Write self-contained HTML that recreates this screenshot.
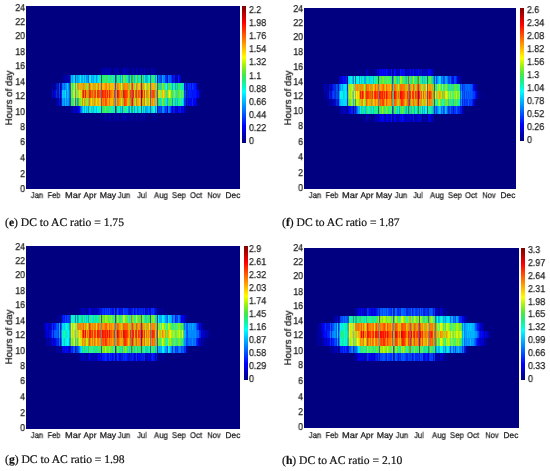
<!DOCTYPE html><html><head><meta charset="utf-8"><style>
*{margin:0;padding:0;box-sizing:border-box}
html,body{width:550px;height:471px;background:#fff;overflow:hidden}
body{position:relative;font-family:"Liberation Sans",sans-serif;color:#1a1a1a;text-rendering:geometricPrecision}
.pl{position:absolute;background:#000080;overflow:hidden}
.rw{position:absolute;left:0;background-repeat:no-repeat}
.hm{position:absolute;left:0;top:0;width:100%;height:100%;filter:blur(0.35px)}
.cb{position:absolute;background:linear-gradient(to top,#000080 0.00%,#00009f 3.12%,#0000bf 6.25%,#0000df 9.38%,#0000ff 12.50%,#0020ff 15.62%,#0040ff 18.75%,#0060ff 21.88%,#0080ff 25.00%,#009fff 28.12%,#00bfff 31.25%,#00dfff 34.38%,#00ffff 37.50%,#06f9c9 40.62%,#15f298 43.75%,#2cec6d 46.88%,#49e649 50.00%,#6dec2c 53.12%,#98f215 56.25%,#c9f906 59.38%,#ffff00 62.50%,#ffdf00 65.62%,#ffbf00 68.75%,#ff9f00 71.88%,#ff8000 75.00%,#ff6000 78.12%,#ff4000 81.25%,#ff2000 84.38%,#ff0000 87.50%,#df0000 90.62%,#bf0000 93.75%,#9f0000 96.88%,#800000 100.00%)}
.t{position:absolute;white-space:nowrap;line-height:1;font-size:10.0px;will-change:transform;-webkit-text-stroke:0.25px #1a1a1a}
.yt{text-align:right;width:20px;transform:scaleX(0.88);transform-origin:100% 50%}
.ct{transform:scaleX(0.88);transform-origin:0 50%}
.mt{font-size:8.3px;width:30px;margin-left:-15px;text-align:center}
.yl{font-size:9.7px;width:60px;margin-left:-30px;text-align:center;transform:rotate(-90deg);-webkit-text-stroke:0.2px #111;will-change:auto;color:#111}
.cap{position:absolute;white-space:nowrap;font-family:"Liberation Serif",serif;font-size:11.6px;line-height:1;color:#111;will-change:transform;-webkit-text-stroke:0.2px #111}
</style></head><body>

<div class="pl" style="left:26px;top:6px;width:214.3px;height:182.8px"><div class="hm">
<div class="rw" style="top:107.23px;height:7.62px;width:215px;background-image:linear-gradient(90deg,#000080 0 74px,#000086 0 75px,#000084 0 76px,#00008d 0 78px,#000093 0 79px,#0000aa 0 80px,#0000a1 0 81px,#000080 0 82px,#00008a 0 83px,#0000b1 0 84px,#000093 0 85px,#000098 0 86px,#000080 0 87px,#00008f 0 88px,#0000b3 0 89px,#000080 0 90px,#000082 0 91px,#0000b4 0 92px,#00009e 0 93px,#000082 0 94px,#000088 0 95px,#000093 0 96px,#000099 0 97px,#0000ac 0 98px,#00008e 0 99px,#0000ae 0 100px,#0000a0 0 101px,#000086 0 102px,#00008f 0 103px,#000093 0 104px,#00008f 0 105px,#000096 0 106px,#00009e 0 107px,#00008f 0 108px,#000080 0 110px,#0000ae 0 111px,#000080 0 112px,#000085 0 113px,#000080 0 114px,#000089 0 115px,#000094 0 116px,#000096 0 117px,#000094 0 118px,#0000ac 0 119px,#000080 0 125px,#000090 0 126px,#00009b 0 127px,#000087 0 128px,#000093 0 129px,#000080 0 130px,#00008b 0 131px,#000080 0 215px)"></div>
<div class="rw" style="top:99.62px;height:7.62px;width:215px;background-image:linear-gradient(90deg,#000080 0 37px,#000085 0 38px,#000082 0 39px,#00008e 0 40px,#000080 0 41px,#000087 0 42px,#000080 0 44px,#00008d 0 45px,#0000a2 0 46px,#00009a 0 47px,#0000ce 0 48px,#0000e1 0 49px,#00009e 0 50px,#0000aa 0 51px,#0000cd 0 52px,#0001de 0 53px,#0009fd 0 54px,#0055ff 0 55px,#007cff 0 56px,#01b7ee 0 57px,#01eef3 0 58px,#00a2f8 0 59px,#06fad1 0 60px,#01b3f5 0 61px,#00d7ff 0 62px,#0486ec 0 63px,#1eef85 0 64px,#0befcf 0 65px,#05cdeb 0 66px,#10deb8 0 67px,#02bde8 0 68px,#01eded 0 69px,#00eaf9 0 70px,#00baff 0 71px,#02fce5 0 72px,#12f5b5 0 73px,#04f9de 0 74px,#05fade 0 75px,#0b6487 0 76px,#2aec70 0 77px,#30eb67 0 78px,#1cf08d 0 79px,#6cef36 0 80px,#2feb69 0 81px,#22ee7d 0 82px,#1ee3b7 0 83px,#4aea4c 0 84px,#25f090 0 85px,#19f193 0 86px,#0defd4 0 87px,#17e0b3 0 88px,#30ec74 0 89px,#023c9a 0 90px,#0193da 0 91px,#2aec71 0 92px,#20f08a 0 93px,#02f4e6 0 94px,#04b6df 0 95px,#02e0ec 0 96px,#088bdf 0 97px,#28ed77 0 98px,#17f29a 0 99px,#38ef73 0 100px,#1ff08e 0 101px,#05fbe0 0 102px,#0cb0cf 0 103px,#0e8fcd 0 104px,#04fad6 0 105px,#08a8a1 0 106px,#17af88 0 107px,#0ef6b6 0 108px,#019cfa 0 109px,#07ede4 0 110px,#1df088 0 111px,#01b1ef 0 112px,#07d6d3 0 113px,#01ecf8 0 114px,#05fad5 0 115px,#08658f 0 116px,#09f8c1 0 117px,#04b5e3 0 118px,#15e1b1 0 119px,#009dff 0 120px,#03ace0 0 121px,#00a9fc 0 122px,#00d1ff 0 123px,#00ccff 0 124px,#006cbb 0 125px,#06d0cf 0 126px,#0fe4b4 0 127px,#05fae0 0 128px,#02f5e6 0 129px,#0088ff 0 130px,#0ae2ca 0 131px,#0008c1 0 132px,#0041f2 0 133px,#003df9 0 134px,#004feb 0 135px,#0035e8 0 136px,#0089ff 0 137px,#008bff 0 138px,#0060ff 0 139px,#0036e4 0 140px,#0042fe 0 141px,#0000cc 0 142px,#0088f7 0 143px,#0068ff 0 144px,#0049ff 0 145px,#000eff 0 146px,#0003b4 0 147px,#0013ff 0 148px,#0018ff 0 149px,#0003b3 0 150px,#0000e8 0 151px,#0000a2 0 152px,#000ced 0 153px,#000af4 0 154px,#0017f4 0 155px,#0000d2 0 156px,#0000db 0 157px,#0007e3 0 158px,#0000a1 0 159px,#0000b1 0 160px,#000086 0 161px,#000080 0 215px)"></div>
<div class="rw" style="top:92.00px;height:7.62px;width:215px;background-image:linear-gradient(90deg,#000080 0 25px,#000081 0 26px,#000083 0 27px,#000080 0 29px,#000083 0 30px,#0000a1 0 31px,#0000aa 0 32px,#00048f 0 33px,#000eea 0 34px,#00009c 0 35px,#0021d5 0 36px,#0095ff 0 37px,#00a4ff 0 38px,#0078ff 0 39px,#00bdff 0 40px,#008cff 0 41px,#00a9ff 0 42px,#0096ff 0 43px,#0053f4 0 44px,#205892 0 45px,#47e74c 0 46px,#29ed73 0 47px,#48e94d 0 48px,#a0f419 0 49px,#2d74b6 0 50px,#2ae49e 0 51px,#349a82 0 52px,#52b061 0 53px,#76ed26 0 54px,#75f032 0 55px,#9df321 0 56px,#c39f14 0 57px,#f1d301 0 58px,#82c441 0 59px,#f9b001 0 60px,#80ef2f 0 61px,#a9e418 0 62px,#72d062 0 63px,#ff6c00 0 64px,#ffae00 0 65px,#f6e200 0 66px,#ffa100 0 67px,#a0dc2c 0 68px,#ea940a 0 69px,#ebb206 0 70px,#bbef15 0 71px,#ffb000 0 72px,#ffa200 0 73px,#ffce00 0 74px,#ffb300 0 75px,#695a96 0 76px,#ff8100 0 77px,#ff6d00 0 78px,#ff9100 0 79px,#ff4a00 0 80px,#ff5800 0 81px,#ff9a00 0 82px,#e6b302 0 83px,#ff7900 0 84px,#ffb000 0 85px,#ffb100 0 86px,#f4bb02 0 87px,#cc9f0b 0 88px,#ff7d00 0 89px,#3e85c1 0 90px,#95c66a 0 91px,#ff6d00 0 92px,#ff7800 0 93px,#f59a03 0 94px,#abc91c 0 95px,#ffd000 0 96px,#86d03c 0 97px,#ff8600 0 98px,#fd3900 0 99px,#ff4e00 0 100px,#ff6900 0 101px,#ffa800 0 102px,#c3c80c 0 103px,#9fbc21 0 104px,#ff7a00 0 105px,#ae6151 0 106px,#b11b45 0 107px,#ff8c00 0 108px,#81e143 0 109px,#ffc500 0 110px,#ff7400 0 111px,#a9c526 0 112px,#e4b30c 0 113px,#ffc700 0 114px,#ff9500 0 115px,#69244b 0 116px,#ff9c00 0 117px,#acc519 0 118px,#fd7001 0 119px,#c4f61a 0 120px,#b3de28 0 121px,#accc20 0 122px,#e9b708 0 123px,#c4ee0c 0 124px,#785e79 0 125px,#f0a30d 0 126px,#ff8900 0 127px,#ffa900 0 128px,#ff9500 0 129px,#6bda7d 0 130px,#edad12 0 131px,#006ac1 0 132px,#24d57a 0 133px,#25e785 0 134px,#11debc 0 135px,#21e0b2 0 136px,#84ef20 0 137px,#53eb45 0 138px,#3ae95e 0 139px,#16edbf 0 140px,#14ddc8 0 141px,#00b1ff 0 142px,#47e156 0 143px,#32ea65 0 144px,#4ae749 0 145px,#27ee7d 0 146px,#159ac5 0 147px,#24f295 0 148px,#25ee7c 0 149px,#0cc0cf 0 150px,#0de8b3 0 151px,#06c0d6 0 152px,#28ee7a 0 153px,#21f086 0 154px,#24f39d 0 155px,#0deac1 0 156px,#09f3c8 0 157px,#00bdf5 0 158px,#0031d7 0 159px,#002bff 0 160px,#0009b4 0 161px,#0022bf 0 162px,#0000eb 0 163px,#0009f3 0 164px,#0002f1 0 165px,#0005e2 0 166px,#0023f8 0 167px,#0000e8 0 168px,#0000f1 0 169px,#0000f8 0 170px,#0000b1 0 171px,#00009d 0 172px,#000080 0 215px)"></div>
<div class="rw" style="top:84.38px;height:7.62px;width:215px;background-image:linear-gradient(90deg,#000080 0 23px,#000089 0 24px,#000081 0 25px,#000195 0 26px,#0004d8 0 27px,#000091 0 28px,#0000db 0 29px,#0005d9 0 30px,#002fc3 0 31px,#001acc 0 32px,#000d9e 0 33px,#0041ff 0 34px,#0001b4 0 35px,#0026f5 0 36px,#00caff 0 37px,#00c5ff 0 38px,#00b7ff 0 39px,#00e1fe 0 40px,#0080ff 0 41px,#00c7ff 0 42px,#00a9ff 0 43px,#0065ff 0 44px,#235a9f 0 45px,#71ec2b 0 46px,#50f057 0 47px,#b6f613 0 48px,#deec07 0 49px,#54a5a2 0 50px,#7cf544 0 51px,#a7d755 0 52px,#b7d341 0 53px,#ccf905 0 54px,#e6d403 0 55px,#d2e00c 0 56px,#c86c11 0 57px,#f71700 0 58px,#fc8500 0 59px,#fe1100 0 60px,#cca50a 0 61px,#f98f01 0 62px,#b39611 0 63px,#f62500 0 64px,#ff3000 0 65px,#ff6e00 0 66px,#ff5300 0 67px,#be9912 0 68px,#f15704 0 69px,#f44102 0 70px,#dbc706 0 71px,#ff2700 0 72px,#ff3200 0 73px,#ff5500 0 75px,#695c96 0 76px,#ff2000 0 77px,#ff3400 0 78px,#ff4800 0 79px,#fe2600 0 80px,#ff6c00 0 81px,#ff2500 0 82px,#ff9400 0 83px,#ff1c00 0 84px,#ff6b00 0 85px,#ff7c00 0 86px,#ff9600 0 87px,#ff9900 0 88px,#f62d00 0 89px,#4088b5 0 90px,#99b24c 0 91px,#fe0100 0 92px,#ff3100 0 93px,#fa6601 0 94px,#d79f06 0 95px,#ff7600 0 96px,#93ae28 0 97px,#f01100 0 98px,#ff1e00 0 99px,#ff3600 0 100px,#ff4100 0 101px,#ff5a00 0 102px,#ffa900 0 103px,#c5a20b 0 104px,#ff3f00 0 105px,#ae6051 0 106px,#ba4245 0 107px,#ff1b00 0 108px,#d3c706 0 109px,#ff5900 0 110px,#ff2e00 0 111px,#bba916 0 112px,#e95607 0 113px,#ff6000 0 114px,#ff6800 0 115px,#690a5a 0 116px,#ff2500 0 117px,#f2aa01 0 118px,#ff3d00 0 119px,#d1e217 0 120px,#b59c24 0 121px,#d59807 0 122px,#f4a702 0 123px,#ffc700 0 124px,#784d80 0 125px,#f0650e 0 126px,#ff4e00 0 127px,#ff3f00 0 128px,#ff5e00 0 129px,#a3c21f 0 130px,#ed8d11 0 131px,#0082b8 0 132px,#c6e10f 0 133px,#d4e61a 0 134px,#90e953 0 135px,#8fef30 0 136px,#ffb500 0 137px,#ffdd00 0 138px,#d8c907 0 139px,#66e063 0 140px,#80d335 0 141px,#1cf193 0 142px,#e2d510 0 143px,#eafc03 0 144px,#b4f60b 0 145px,#52e742 0 146px,#31dca7 0 147px,#6aec33 0 148px,#7cf548 0 149px,#34e9aa 0 150px,#3ae565 0 151px,#3edf8e 0 152px,#4be749 0 153px,#6fed30 0 154px,#51f774 0 155px,#3bf073 0 156px,#6bf13e 0 157px,#34e790 0 158px,#0045e7 0 159px,#0050ff 0 160px,#001cbc 0 161px,#002eba 0 162px,#0013f9 0 163px,#0024f9 0 164px,#001ef2 0 165px,#001afc 0 166px,#000efe 0 167px,#0016ff 0 168px,#0013ff 0 169px,#0018ff 0 170px,#000bf8 0 171px,#0002e6 0 172px,#0001f3 0 173px,#0000b1 0 174px,#000096 0 175px,#000080 0 215px)"></div>
<div class="rw" style="top:76.77px;height:7.62px;width:215px;background-image:linear-gradient(90deg,#000080 0 25px,#00008e 0 26px,#0000a7 0 27px,#000083 0 28px,#000099 0 29px,#0002a0 0 30px,#0013c3 0 31px,#0015d0 0 32px,#000f9b 0 33px,#004cff 0 34px,#0002a8 0 35px,#0019c5 0 36px,#0070ff 0 37px,#0084ff 0 38px,#0064ff 0 39px,#0090ff 0 40px,#0092ff 0 41px,#00d0ff 0 42px,#008cff 0 43px,#0057f7 0 44px,#345b78 0 45px,#81ef21 0 46px,#3fec5c 0 47px,#81ef29 0 48px,#b3f611 0 49px,#4ab69b 0 50px,#c0e710 0 51px,#aaa455 0 52px,#bea241 0 53px,#ffac00 0 54px,#ffa200 0 55px,#d1b617 0 56px,#b4bb25 0 57px,#ff8700 0 58px,#aebe17 0 59px,#ffa400 0 60px,#90db39 0 61px,#b2d915 0 62px,#80c845 0 63px,#ff4300 0 64px,#ff9300 0 65px,#ffc300 0 66px,#ffab00 0 67px,#a7b823 0 68px,#ecab08 0 69px,#e8a209 0 70px,#99f120 0 71px,#fda600 0 72px,#ff7900 0 73px,#ffb800 0 74px,#ffa400 0 75px,#696596 0 76px,#ffad00 0 77px,#ffc300 0 78px,#ffb100 0 79px,#ff8800 0 80px,#ff7900 0 81px,#ffbd00 0 82px,#b8cb11 0 83px,#ff8200 0 84px,#ffbb00 0 85px,#ffb600 0 86px,#f8b801 0 87px,#e0c904 0 88px,#ff9600 0 89px,#3e4abc 0 90px,#95b76a 0 91px,#ff7b00 0 92px,#ff8d00 0 93px,#f4b404 0 94px,#9fc527 0 95px,#ffe400 0 96px,#83d540 0 97px,#ff7e00 0 99px,#ff9100 0 100px,#ff9700 0 101px,#ff8800 0 102px,#a2c01f 0 103px,#96bf2a 0 104px,#ffc100 0 105px,#ae8551 0 106px,#ba3e45 0 107px,#ffa600 0 108px,#79e152 0 109px,#ffc700 0 110px,#ff7900 0 111px,#91be55 0 112px,#dccf1b 0 113px,#ffc800 0 114px,#ff9200 0 115px,#693a4b 0 116px,#ff8e00 0 117px,#91c530 0 118px,#fdbc01 0 119px,#c6fb2f 0 120px,#a5dd4a 0 121px,#98cf3b 0 122px,#e4c90f 0 123px,#c9ea08 0 124px,#55747d 0 125px,#f0a40d 0 126px,#ffaf00 0 127px,#ffb600 0 128px,#ffb000 0 129px,#7ada50 0 130px,#edbf0e 0 131px,#0380a5 0 132px,#3ad25c 0 133px,#24e186 0 134px,#43c887 0 135px,#1fd8b4 0 136px,#74ed2a 0 137px,#69eb33 0 138px,#3aec63 0 139px,#32f0af 0 140px,#39f7b0 0 141px,#00c9f9 0 142px,#5de343 0 143px,#4be849 0 144px,#2cf28a 0 145px,#23ee9c 0 146px,#08ace2 0 147px,#0ff7c1 0 148px,#22ef80 0 149px,#0cb5cd 0 150px,#1ae693 0 151px,#15c6b5 0 152px,#2bec71 0 153px,#39ea61 0 154px,#1af18f 0 155px,#10eeba 0 156px,#18ef9d 0 157px,#06e0da 0 158px,#000dd4 0 159px,#0034ff 0 160px,#000fc9 0 161px,#0025bd 0 162px,#002df9 0 163px,#0017ff 0 164px,#0032ff 0 165px,#000afb 0 166px,#0036fe 0 167px,#0022ff 0 168px,#0015ff 0 169px,#0012ff 0 170px,#0002e8 0 171px,#0000a2 0 172px,#000091 0 173px,#000080 0 215px)"></div>
<div class="rw" style="top:69.15px;height:7.62px;width:215px;background-image:linear-gradient(90deg,#000080 0 35px,#000086 0 36px,#00008d 0 37px,#0000a0 0 38px,#00008f 0 39px,#0000c0 0 40px,#000094 0 41px,#0000c5 0 42px,#0000b2 0 43px,#0000b5 0 44px,#0046b0 0 45px,#00b7ff 0 46px,#009bff 0 47px,#00d2ff 0 48px,#01dff7 0 49px,#015ec3 0 50px,#00b7ff 0 51px,#009ed6 0 52px,#00b2e0 0 53px,#00beff 0 54px,#00eff9 0 55px,#00a6ff 0 56px,#00a9f6 0 57px,#00ddfc 0 58px,#019df5 0 59px,#01d7f6 0 60px,#008eff 0 61px,#009bff 0 62px,#005fff 0 63px,#06edd5 0 64px,#07f7d7 0 65px,#03a2ef 0 66px,#00c1ff 0 67px,#00a3ff 0 68px,#00d1ff 0 69px,#02e1e6 0 70px,#008eff 0 71px,#00cef7 0 72px,#09f3c8 0 73px,#02f1e6 0 74px,#29ed7a 0 75px,#176072 0 76px,#1ff08b 0 77px,#31ec6e 0 78px,#15f39f 0 79px,#4ae94b 0 80px,#41ea55 0 81px,#30eb6a 0 82px,#16efbf 0 83px,#28ef81 0 84px,#2ce398 0 85px,#36e96f 0 86px,#20f2a8 0 87px,#15e4b7 0 88px,#1bf18c 0 89px,#094094 0 90px,#079dd2 0 91px,#44e952 0 92px,#2fec6f 0 93px,#0dedb0 0 94px,#09b2d1 0 95px,#12f7c5 0 96px,#17b0bc 0 97px,#6fed32 0 98px,#61ea36 0 99px,#2cec7e 0 100px,#1eefa3 0 101px,#18f193 0 102px,#10b7c6 0 103px,#129ac3 0 104px,#1ef194 0 105px,#33a064 0 106px,#4dae4d 0 107px,#2feb69 0 108px,#03c0ec 0 109px,#1ef08b 0 110px,#65ef3c 0 111px,#26ce9d 0 112px,#15e8a0 0 113px,#0ff5ad 0 114px,#21ef7f 0 115px,#276163 0 116px,#39ee66 0 117px,#26bfac 0 118px,#13f1b5 0 119px,#00b3ff 0 120px,#06b4d5 0 121px,#0fbdc0 0 122px,#06ead0 0 123px,#04f9e5 0 124px,#0176ae 0 125px,#23e28a 0 126px,#1ef18e 0 127px,#3be95b 0 128px,#26ed79 0 129px,#04a6ea 0 130px,#07e9ce 0 131px,#000dc1 0 132px,#007ff2 0 133px,#0060f5 0 134px,#0054de 0 135px,#0036f6 0 136px,#00abff 0 137px,#0082ff 0 138px,#0087ff 0 139px,#0031ec 0 140px,#0033f9 0 141px,#000cd7 0 142px,#0074f8 0 143px,#0050ff 0 144px,#005cff 0 145px,#0033ff 0 146px,#0010b4 0 147px,#0013ff 0 148px,#0018ff 0 149px,#00029e 0 150px,#0000cd 0 151px,#0000a9 0 152px,#001af6 0 153px,#0000f3 0 154px,#0000bc 0 155px,#000080 0 215px)"></div>
<div class="rw" style="top:61.53px;height:7.62px;width:215px;background-image:linear-gradient(90deg,#000080 0 62px,#000081 0 63px,#000082 0 64px,#000080 0 73px,#000082 0 74px,#00008d 0 75px,#000094 0 76px,#0000a8 0 77px,#0000ae 0 78px,#000094 0 79px,#0000bb 0 80px,#0000a2 0 81px,#0000bb 0 82px,#000098 0 83px,#0000c6 0 84px,#0000a2 0 85px,#000098 0 86px,#00008d 0 87px,#000086 0 88px,#0000c2 0 89px,#000087 0 90px,#000089 0 91px,#0000c2 0 92px,#0000ab 0 93px,#000081 0 94px,#000091 0 95px,#00008f 0 96px,#000090 0 97px,#0000c6 0 98px,#0000b1 0 99px,#0000a7 0 100px,#0000ad 0 101px,#0000a6 0 102px,#000097 0 103px,#000090 0 104px,#000080 0 105px,#000091 0 106px,#000097 0 107px,#0000bb 0 108px,#000082 0 109px,#00008f 0 110px,#0000b4 0 111px,#000093 0 112px,#000089 0 113px,#0000a0 0 114px,#000098 0 115px,#0000a1 0 116px,#0000b2 0 117px,#000085 0 118px,#0000ba 0 119px,#000080 0 120px,#000083 0 121px,#000094 0 122px,#000092 0 123px,#000080 0 125px,#0000b0 0 126px,#0000a0 0 127px,#0000ad 0 128px,#00008f 0 129px,#000085 0 131px,#000080 0 215px)"></div>
</div></div>
<div class="cb" style="left:242px;top:6px;width:4px;height:137px"></div>
<div class="t yt" style="left:4.80px;top:3.50px">24</div>
<div class="t yt" style="left:4.80px;top:17.80px">22</div>
<div class="t yt" style="left:4.80px;top:32.10px">20</div>
<div class="t yt" style="left:4.80px;top:47.70px">18</div>
<div class="t yt" style="left:4.80px;top:62.30px">16</div>
<div class="t yt" style="left:4.80px;top:77.50px">14</div>
<div class="t yt" style="left:4.80px;top:92.20px">12</div>
<div class="t yt" style="left:4.80px;top:107.60px">10</div>
<div class="t yt" style="left:4.80px;top:122.50px">8</div>
<div class="t yt" style="left:4.80px;top:138.40px">6</div>
<div class="t yt" style="left:4.80px;top:154.20px">4</div>
<div class="t yt" style="left:4.80px;top:169.80px">2</div>
<div class="t yt" style="left:4.80px;top:184.90px">0</div>
<div class="t mt" style="left:37.00px;top:190.80px;transform:scaleX(0.92)">Jan</div>
<div class="t mt" style="left:53.80px;top:190.80px;transform:scaleX(0.89)">Feb</div>
<div class="t mt" style="left:73.00px;top:190.80px;transform:scaleX(1.12)">Mar</div>
<div class="t mt" style="left:89.50px;top:190.80px;transform:scaleX(1)">Apr</div>
<div class="t mt" style="left:108.00px;top:190.80px;transform:scaleX(1.05)">May</div>
<div class="t mt" style="left:124.00px;top:190.80px;transform:scaleX(0.92)">Jun</div>
<div class="t mt" style="left:141.50px;top:190.80px;transform:scaleX(0.9)">Jul</div>
<div class="t mt" style="left:161.00px;top:190.80px;transform:scaleX(0.93)">Aug</div>
<div class="t mt" style="left:179.00px;top:190.80px;transform:scaleX(0.93)">Sep</div>
<div class="t mt" style="left:195.60px;top:190.80px;transform:scaleX(0.92)">Oct</div>
<div class="t mt" style="left:213.80px;top:190.80px;transform:scaleX(0.89)">Nov</div>
<div class="t mt" style="left:233.00px;top:190.80px;transform:scaleX(1)">Dec</div>
<div class="t ct" style="left:249.10px;top:5.90px">2.2</div>
<div class="t ct" style="left:249.10px;top:19.02px">1.98</div>
<div class="t ct" style="left:249.10px;top:32.14px">1.76</div>
<div class="t ct" style="left:249.10px;top:45.26px">1.54</div>
<div class="t ct" style="left:249.10px;top:58.38px">1.32</div>
<div class="t ct" style="left:249.10px;top:71.50px">1.1</div>
<div class="t ct" style="left:249.10px;top:84.62px">0.88</div>
<div class="t ct" style="left:249.10px;top:97.74px">0.66</div>
<div class="t ct" style="left:249.10px;top:110.86px">0.44</div>
<div class="t ct" style="left:249.10px;top:123.98px">0.22</div>
<div class="t ct" style="left:249.10px;top:137.10px">0</div>
<div class="t yl" style="left:9.95px;top:93.20px">Hours of day</div>
<div class="cap" style="left:4.8px;top:216.5px">(<b>e</b>) DC to AC ratio = 1.75</div>
<div class="pl" style="left:304px;top:8px;width:212px;height:180.7px"><div class="hm">
<div class="rw" style="top:106.01px;height:7.53px;width:212px;background-image:linear-gradient(90deg,#000080 0 53px,#000087 0 54px,#000082 0 55px,#000083 0 56px,#000084 0 57px,#000087 0 58px,#00008b 0 59px,#000083 0 60px,#000080 0 61px,#000091 0 62px,#0000b4 0 63px,#00009e 0 64px,#000095 0 65px,#00008a 0 66px,#000093 0 67px,#000080 0 68px,#000090 0 69px,#000081 0 70px,#0000a0 0 71px,#0000b4 0 72px,#00009a 0 73px,#0000d0 0 74px,#00009e 0 75px,#0000dc 0 76px,#0000df 0 77px,#0000de 0 78px,#0000f2 0 79px,#0005f0 0 80px,#0000cc 0 81px,#0000a2 0 82px,#0000fe 0 83px,#0000d7 0 84px,#0000de 0 85px,#0000bb 0 86px,#0000c8 0 87px,#0012ee 0 88px,#000096 0 89px,#0000ae 0 90px,#0004fc 0 91px,#0000ec 0 92px,#0000c8 0 93px,#0000ae 0 94px,#0003ce 0 95px,#0005b5 0 96px,#0007f0 0 97px,#0000dc 0 98px,#000def 0 99px,#0000ed 0 100px,#0000d7 0 101px,#0000b3 0 102px,#0000b1 0 103px,#0000dc 0 104px,#0000bf 0 105px,#0000de 0 106px,#0000d2 0 107px,#0000a1 0 108px,#0000c2 0 109px,#000fe6 0 110px,#00009b 0 111px,#0000bf 0 112px,#0000c0 0 113px,#0000c7 0 114px,#0004c9 0 115px,#0000e0 0 116px,#0006b5 0 117px,#0008bc 0 118px,#000080 0 119px,#0000a4 0 120px,#00009a 0 121px,#0000b0 0 122px,#000090 0 123px,#0000a0 0 124px,#0000cc 0 125px,#0000ea 0 126px,#0000d1 0 127px,#0000ba 0 128px,#0000a1 0 129px,#0000b3 0 130px,#000080 0 212px)"></div>
<div class="rw" style="top:98.48px;height:7.53px;width:212px;background-image:linear-gradient(90deg,#000080 0 32px,#000081 0 33px,#000080 0 35px,#0000a2 0 36px,#000095 0 37px,#0000ba 0 38px,#00009d 0 39px,#0000c6 0 40px,#0000b5 0 41px,#0000c1 0 42px,#0000a8 0 43px,#000080 0 44px,#0000de 0 45px,#0006f1 0 46px,#000ee6 0 47px,#0021ff 0 48px,#0022e4 0 49px,#0001b7 0 50px,#002dff 0 51px,#001eb5 0 52px,#0047ff 0 53px,#007bff 0 54px,#00afff 0 55px,#05aee6 0 56px,#0bf7bc 0 57px,#0bcacb 0 58px,#16eb9b 0 59px,#15e5a4 0 60px,#01ddf4 0 61px,#04c3de 0 62px,#35d86e 0 63px,#22f191 0 64px,#1ef4ad 0 65px,#17efc0 0 66px,#1de396 0 67px,#0edcbe 0 68px,#0ef5ac 0 69px,#05cbde 0 70px,#14f39c 0 71px,#2ded75 0 72px,#15f39d 0 73px,#17f298 0 74px,#13638d 0 75px,#4fe744 0 76px,#5ce939 0 77px,#3fea57 0 78px,#9bf21b 0 79px,#5ce939 0 80px,#49e649 0 81px,#29f49a 0 82px,#7eee24 0 83px,#4fee50 0 84px,#37ea61 0 85px,#25f18e 0 86px,#27f39d 0 87px,#59ed42 0 88px,#0b469e 0 89px,#0b8ec8 0 90px,#51e844 0 91px,#45e953 0 92px,#14ee9e 0 93px,#12d3bd 0 94px,#0cf8c8 0 95px,#17afc0 0 96px,#4de948 0 97px,#37ea62 0 98px,#5ff045 0 99px,#40ec5b 0 100px,#1bf190 0 101px,#1fd0b3 0 102px,#17b4bf 0 103px,#1bf08a 0 104px,#18817e 0 105px,#34cc67 0 106px,#29e180 0 107px,#08cacf 0 108px,#1ef29c 0 109px,#39e95f 0 110px,#0abbd1 0 111px,#15f4ac 0 112px,#12f4a7 0 113px,#14cb90 0 114px,#21876a 0 115px,#1fef84 0 116px,#19d1ba 0 117px,#19f5bb 0 118px,#00abff 0 119px,#17e899 0 120px,#05b6e0 0 121px,#03fbdc 0 122px,#02f9ea 0 123px,#0b6588 0 124px,#12ebc3 0 125px,#30eb68 0 126px,#13f39e 0 127px,#0adcc5 0 128px,#07ccd3 0 129px,#19a3af 0 130px,#0036b5 0 131px,#0084ff 0 132px,#004cff 0 133px,#0084ff 0 134px,#00a4ff 0 135px,#00caff 0 136px,#00bdff 0 137px,#0061ff 0 138px,#009aff 0 139px,#0047ff 0 140px,#005bf8 0 141px,#00beff 0 142px,#00a3ff 0 143px,#005dff 0 144px,#0031d2 0 145px,#0040e7 0 146px,#005eff 0 147px,#002fdf 0 148px,#0039f8 0 149px,#0012d9 0 150px,#0039ff 0 151px,#0030ff 0 152px,#0060ff 0 153px,#0036fd 0 154px,#001ff5 0 155px,#002bff 0 156px,#0017bc 0 157px,#000cff 0 158px,#0000b9 0 159px,#0000a2 0 160px,#000080 0 212px)"></div>
<div class="rw" style="top:90.95px;height:7.53px;width:212px;background-image:linear-gradient(90deg,#000080 0 21px,#000084 0 22px,#000080 0 23px,#000092 0 24px,#000084 0 25px,#0000a9 0 26px,#0000a7 0 27px,#000098 0 28px,#0000ba 0 29px,#0004b9 0 30px,#0007b8 0 31px,#0007ca 0 32px,#002fd5 0 33px,#001ed7 0 34px,#000cdd 0 35px,#0090ff 0 36px,#00beff 0 37px,#01d4f3 0 38px,#00ccff 0 39px,#00d9fd 0 40px,#00dcff 0 41px,#00daff 0 42px,#00dcff 0 43px,#0024ff 0 44px,#6ecf40 0 45px,#65eb33 0 46px,#68ec34 0 47px,#9bf221 0 48px,#a5da3a 0 49px,#08c2de 0 50px,#80ef21 0 51px,#3e8e9e 0 52px,#a9f50f 0 53px,#c2f809 0 54px,#a2ef1f 0 55px,#becd0f 0 56px,#ffb300 0 57px,#a9b920 0 58px,#f18905 0 59px,#e5e508 0 60px,#99f118 0 61px,#a5ce2d 0 62px,#e06610 0 63px,#ff8f00 0 64px,#ffb800 0 65px,#ff9e00 0 66px,#dfb00a 0 67px,#c59713 0 68px,#ff9600 0 69px,#c6de0b 0 70px,#ffab00 0 71px,#ff7e00 0 72px,#ffb800 0 73px,#ff9e00 0 74px,#6b8694 0 75px,#ff6800 0 76px,#ff5d00 0 77px,#ff7900 0 78px,#ff4400 0 79px,#ff3f00 0 80px,#ff8200 0 81px,#ffb400 0 82px,#ff5900 0 83px,#ff9200 0 84px,#ffa100 0 85px,#fd9c00 0 86px,#e2a503 0 87px,#ff6500 0 88px,#4aa1ad 0 89px,#92bc52 0 90px,#ff5c00 0 91px,#ff6500 0 92px,#f78702 0 93px,#c7c00c 0 94px,#ffb600 0 95px,#a0c221 0 96px,#ff7200 0 97px,#f73100 0 98px,#ff3d00 0 99px,#ff5b00 0 100px,#ff8f00 0 101px,#e3c103 0 102px,#bcb20f 0 103px,#ff6d00 0 104px,#8c6673 0 105px,#d02921 0 106px,#e98908 0 107px,#b0ce1e 0 108px,#ff9e00 0 109px,#ff6800 0 110px,#aac51a 0 111px,#ffa100 0 112px,#ff9a00 0 113px,#d66e1a 0 114px,#932045 0 115px,#ff9600 0 116px,#c8a50a 0 117px,#ff9200 0 118px,#a7e920 0 119px,#f3b604 0 120px,#b3c514 0 121px,#feb400 0 122px,#e6d802 0 123px,#6b5794 0 124px,#ff9a00 0 125px,#ff6e00 0 126px,#ff8a00 0 127px,#cda11f 0 128px,#acb632 0 129px,#86c675 0 130px,#13647f 0 131px,#5dea3b 0 132px,#1ef4b3 0 133px,#28ef8d 0 134px,#81f439 0 135px,#b4f60d 0 136px,#6fec2b 0 137px,#37ed6f 0 138px,#40f172 0 139px,#01fcf0 0 140px,#3dde9b 0 141px,#66eb32 0 142px,#6aeb2f 0 143px,#70ec2b 0 144px,#1dcfa2 0 145px,#55df62 0 146px,#30ec69 0 147px,#34e293 0 148px,#2be978 0 149px,#12d3c3 0 150px,#4beb4d 0 151px,#37ea5f 0 152px,#5def45 0 153px,#29ed79 0 154px,#19f3a3 0 155px,#0eeebc 0 156px,#0054fe 0 157px,#0089ff 0 158px,#0028e4 0 159px,#0050eb 0 160px,#0029f3 0 161px,#0043ff 0 162px,#0036ff 0 163px,#002eff 0 164px,#0068ff 0 165px,#002fff 0 166px,#003aff 0 167px,#003dff 0 168px,#001fe9 0 169px,#0009e3 0 170px,#0000b8 0 171px,#000091 0 172px,#00008c 0 173px,#000082 0 174px,#000080 0 212px)"></div>
<div class="rw" style="top:83.42px;height:7.53px;width:212px;background-image:linear-gradient(90deg,#000080 0 19px,#000084 0 20px,#00009a 0 21px,#0000a0 0 22px,#000083 0 23px,#0000c3 0 24px,#00009d 0 25px,#0023d9 0 26px,#000fe2 0 27px,#0005dc 0 28px,#0036ff 0 29px,#0044ff 0 30px,#0037de 0 31px,#0028e5 0 32px,#0051f2 0 33px,#004ad7 0 34px,#0031dd 0 35px,#00a8fb 0 36px,#00f7ff 0 37px,#02f1eb 0 38px,#01f2f8 0 39px,#07d0d5 0 40px,#00dcff 0 41px,#01f4f2 0 42px,#00dcff 0 43px,#004cff 0 44px,#7ed538 0 45px,#abf512 0 46px,#a8e925 0 47px,#cbf109 0 48px,#c9bf36 0 49px,#33da8d 0 50px,#ffeb00 0 51px,#6bca94 0 52px,#ffee00 0 53px,#ffca00 0 54px,#fce100 0 55px,#c5b30c 0 56px,#fd1800 0 57px,#f26300 0 58px,#f71100 0 59px,#f75101 0 60px,#eec802 0 61px,#e17a04 0 62px,#e33101 0 63px,#ff2a00 0 64px,#ff3a00 0 65px,#ff5e00 0 66px,#ee5a03 0 67px,#e07405 0 68px,#fc3000 0 69px,#f0bc01 0 70px,#ff2f00 0 71px,#ff1d00 0 72px,#ff4b00 0 73px,#ff3e00 0 74px,#6b8594 0 75px,#ff1400 0 76px,#ff2100 0 77px,#ff3600 0 78px,#f81c00 0 79px,#ff5a00 0 80px,#ff2100 0 81px,#ff7f00 0 82px,#ff0f00 0 83px,#ff4800 0 84px,#ff7600 0 85px,#ff7200 0 86px,#ff8c00 0 87px,#f12400 0 88px,#4ea1a4 0 89px,#9fa634 0 90px,#f50300 0 91px,#fd2400 0 92px,#fe5800 0 93px,#f59900 0 94px,#ff6400 0 95px,#ada714 0 96px,#ee0b00 0 97px,#ff1300 0 98px,#ff2900 0 99px,#ff3400 0 100px,#ff4800 0 101px,#ff8d00 0 102px,#e59d02 0 103px,#ff3500 0 104px,#8c7c73 0 105px,#de2d21 0 106px,#fd2c00 0 107px,#f6b400 0 108px,#ff3900 0 109px,#ff2d00 0 110px,#c3b20c 0 111px,#ff3400 0 112px,#ff5400 0 113px,#d64625 0 114px,#910062 0 115px,#ff2400 0 116px,#ff9100 0 117px,#ff5300 0 118px,#ace51c 0 119px,#f45b04 0 120px,#ebb602 0 121px,#ff9000 0 122px,#ffa700 0 123px,#6b4294 0 124px,#ff6d00 0 125px,#ff1f00 0 126px,#ff4200 0 127px,#e77105 0 128px,#d8b108 0 129px,#8ea44b 0 130px,#52666b 0 131px,#ffeb00 0 132px,#83d943 0 133px,#c2d413 0 134px,#e6ca07 0 135px,#ff9f00 0 136px,#ffb100 0 137px,#a4ed25 0 138px,#b5b71f 0 139px,#63ea34 0 140px,#85cc44 0 141px,#ffe000 0 142px,#eaf401 0 143px,#b6f612 0 144px,#51f56f 0 145px,#92f83b 0 146px,#66ea38 0 147px,#89f262 0 148px,#69ee3a 0 149px,#35f79c 0 150px,#91f119 0 151px,#80ef23 0 152px,#b0f822 0 153px,#63f042 0 154px,#67f248 0 155px,#89f533 0 156px,#076ee2 0 157px,#00a8ff 0 158px,#0043f0 0 159px,#005eed 0 160px,#003df0 0 161px,#006aff 0 162px,#0048ff 0 163px,#0066ff 0 164px,#0049ff 0 165px,#005fff 0 166px,#0055ff 0 167px,#005bff 0 168px,#004fff 0 169px,#0038ff 0 170px,#003aff 0 171px,#0010fa 0 172px,#0000e0 0 173px,#0000a5 0 174px,#000095 0 175px,#000090 0 176px,#00008d 0 177px,#00008c 0 178px,#000080 0 179px,#000083 0 180px,#000080 0 212px)"></div>
<div class="rw" style="top:75.89px;height:7.53px;width:212px;background-image:linear-gradient(90deg,#000080 0 19px,#00008e 0 20px,#00009f 0 21px,#0000c7 0 22px,#000088 0 23px,#0000ac 0 24px,#000095 0 25px,#000fc3 0 26px,#0005c3 0 27px,#0000bf 0 28px,#000aef 0 29px,#0028de 0 30px,#002bda 0 31px,#0026ec 0 32px,#0057eb 0 33px,#0050d7 0 34px,#0017db 0 35px,#006ffb 0 36px,#009cff 0 37px,#00cbff 0 38px,#00a2ff 0 39px,#00d5ff 0 40px,#00dff7 0 41px,#01ebed 0 42px,#00d0ff 0 43px,#0020fc 0 44px,#a3d42b 0 45px,#96f219 0 46px,#9ef222 0 47px,#adf417 0 48px,#c6f236 0 49px,#75e165 0 50px,#ffa100 0 51px,#6bc194 0 52px,#ff9000 0 53px,#ff8300 0 54px,#ff9a00 0 55px,#9fc022 0 56px,#ff8700 0 57px,#d4a407 0 58px,#f88701 0 59px,#e1b20b 0 60px,#9af01c 0 61px,#b2b91e 0 62px,#e55d0a 0 63px,#ff7c00 0 64px,#ff7900 0 65px,#ffa600 0 66px,#e39208 0 67px,#cca50e 0 68px,#ff9400 0 69px,#b6e112 0 70px,#ffa800 0 71px,#ff5d00 0 72px,#ffaa00 0 73px,#ff8500 0 74px,#6b8c94 0 75px,#ff8d00 0 76px,#ffaa00 0 77px,#ff9a00 0 78px,#ff7f00 0 79px,#ff6000 0 80px,#ff9c00 0 81px,#d7d205 0 82px,#ff6700 0 83px,#ff9d00 0 84px,#ffa400 0 85px,#ff9900 0 86px,#fbc800 0 87px,#ff8000 0 88px,#496ab1 0 89px,#8fb860 0 90px,#ff6800 0 91px,#ff7700 0 92px,#f69e03 0 93px,#b9bd13 0 94px,#ffc800 0 95px,#9cc524 0 96px,#ff6a00 0 97px,#ff6f00 0 98px,#ff7900 0 99px,#ff7e00 0 100px,#ff7600 0 101px,#c0b90e 0 102px,#b2c215 0 103px,#ffa600 0 104px,#8c8773 0 105px,#de4821 0 106px,#e6980b 0 107px,#a8cb26 0 108px,#ffb100 0 109px,#ff5700 0 110px,#7fc147 0 111px,#ffaf00 0 112px,#ffa000 0 113px,#d66d21 0 114px,#934357 0 115px,#ff7c00 0 116px,#aabd1a 0 117px,#ffbe00 0 118px,#8be645 0 119px,#f0b009 0 120px,#95c82b 0 121px,#feb000 0 122px,#eafd01 0 123px,#685e94 0 124px,#ffa600 0 125px,#ff9000 0 126px,#ff9500 0 127px,#d5b712 0 128px,#bab41e 0 129px,#94ca3e 0 130px,#2d6461 0 131px,#57e940 0 132px,#26ddab 0 133px,#65f96f 0 134px,#6ef244 0 135px,#b9f70b 0 136px,#82ef20 0 137px,#2eee7a 0 138px,#8afa51 0 139px,#0ef4ad 0 140px,#46df97 0 141px,#85f01e 0 142px,#78ef2b 0 143px,#47ed55 0 144px,#0adecd 0 145px,#30df80 0 146px,#2ced73 0 147px,#2fd997 0 148px,#37e468 0 149px,#1fddb2 0 150px,#5be939 0 151px,#56eb42 0 152px,#4fe947 0 153px,#36ea63 0 154px,#27ef89 0 155px,#24ef84 0 156px,#024dee 0 157px,#007aff 0 158px,#002ff9 0 159px,#0054f2 0 160px,#004df2 0 161px,#0062ff 0 162px,#006fff 0 163px,#005aff 0 164px,#0070ff 0 165px,#0065ff 0 166px,#0058ff 0 167px,#005cff 0 168px,#003eff 0 169px,#0006f2 0 170px,#0000e2 0 171px,#0000a9 0 172px,#0000a6 0 173px,#00008a 0 174px,#000080 0 212px)"></div>
<div class="rw" style="top:68.36px;height:7.53px;width:212px;background-image:linear-gradient(90deg,#000080 0 35px,#0000bf 0 36px,#0000cd 0 37px,#0000ec 0 38px,#0003e4 0 39px,#0013e9 0 40px,#0007f5 0 41px,#000ffb 0 42px,#0025f3 0 43px,#000089 0 44px,#00d3ed 0 45px,#00d7ff 0 46px,#04ecdf 0 47px,#01efef 0 48px,#0ec1b8 0 49px,#0082fa 0 50px,#05fad1 0 51px,#0567c7 0 52px,#03f5e9 0 53px,#09f5cc 0 54px,#01fded 0 55px,#04a1e8 0 56px,#07f6d8 0 57px,#08c7d3 0 58px,#0dedc1 0 59px,#01e7ec 0 60px,#00a5fe 0 61px,#02aee9 0 62px,#0cddc6 0 63px,#18f297 0 64px,#18e1b6 0 65px,#02cdeb 0 66px,#03e8de 0 67px,#01daef 0 68px,#10f4a9 0 69px,#03bbf1 0 70px,#03f0f1 0 71px,#22ef80 0 72px,#0df6b8 0 73px,#3eec5c 0 74px,#2f6373 0 75px,#44ea52 0 76px,#5dec3c 0 77px,#32eb66 0 78px,#70ec2c 0 79px,#75ed29 0 80px,#5ce939 0 81px,#27f18a 0 82px,#52ed49 0 83px,#4ef368 0 84px,#51ee58 0 85px,#47f162 0 86px,#26f299 0 87px,#3fe855 0 88px,#154f98 0 89px,#17b0b0 0 90px,#70ec2c 0 91px,#58eb40 0 92px,#2ae876 0 93px,#19cfb2 0 94px,#2cf07e 0 95px,#2ad3a9 0 96px,#a5f415 0 97px,#8ef11a 0 98px,#49ed58 0 99px,#3eee66 0 100px,#3ee857 0 101px,#22d7b0 0 102px,#25bead 0 103px,#3ced61 0 104px,#4a8374 0 105px,#7bd139 0 106px,#50e653 0 107px,#0ee3c2 0 108px,#4de747 0 109px,#9af21a 0 110px,#2ceaa8 0 111px,#3de857 0 112px,#2dec6e 0 113px,#3fc251 0 114px,#5a8c41 0 115px,#5feb3c 0 116px,#29e1ac 0 117px,#1df29b 0 118px,#00bdfd 0 119px,#2ae477 0 120px,#14d1c1 0 121px,#23ee7d 0 122px,#10f4a6 0 123px,#20636c 0 124px,#36ee6b 0 125px,#4ee645 0 126px,#6beb2e 0 127px,#34db77 0 128px,#0cd8c2 0 129px,#16a8b4 0 130px,#004cb5 0 131px,#00bcff 0 132px,#004aff 0 133px,#0091ff 0 134px,#00b5ff 0 135px,#00daff 0 136px,#00d3ff 0 137px,#006cff 0 138px,#008eff 0 139px,#004eff 0 140px,#0054fd 0 141px,#00a3ff 0 143px,#007aff 0 144px,#0047e1 0 145px,#004bef 0 146px,#005dff 0 147px,#002be6 0 148px,#0010f8 0 149px,#0012da 0 150px,#004bff 0 151px,#003dff 0 152px,#001efe 0 153px,#0000d1 0 154px,#0000b0 0 155px,#0000b1 0 156px,#000096 0 158px,#000080 0 159px,#000081 0 160px,#000080 0 212px)"></div>
<div class="rw" style="top:60.83px;height:7.53px;width:212px;background-image:linear-gradient(90deg,#000080 0 54px,#00008d 0 55px,#000087 0 56px,#000085 0 57px,#000099 0 58px,#00008a 0 59px,#000083 0 60px,#000080 0 61px,#000086 0 62px,#0000c2 0 63px,#0000b7 0 64px,#000099 0 65px,#000090 0 66px,#000093 0 67px,#000080 0 68px,#00008b 0 69px,#000086 0 71px,#0000a6 0 72px,#0000a2 0 73px,#0000db 0 74px,#0001a9 0 75px,#0009f2 0 76px,#0000f9 0 77px,#0000dd 0 78px,#0009ff 0 79px,#0000f1 0 80px,#0008fc 0 81px,#0002d5 0 82px,#0012ff 0 83px,#0007da 0 84px,#0000d7 0 85px,#0000d0 0 86px,#0000b8 0 87px,#0016f6 0 88px,#00009f 0 89px,#0000b5 0 90px,#000efe 0 91px,#0003f5 0 92px,#0000c2 0 93px,#0000b7 0 94px,#0000d2 0 95px,#0000b0 0 96px,#0019fa 0 97px,#0008f1 0 98px,#0004ef 0 99px,#000cee 0 100px,#000aee 0 101px,#0001b4 0 102px,#0000ab 0 103px,#0000cf 0 104px,#0000bb 0 105px,#0000e1 0 106px,#000dec 0 107px,#0000ac 0 108px,#0000e2 0 109px,#000bf7 0 110px,#0000ae 0 111px,#0000c7 0 112px,#0000f3 0 113px,#0000d2 0 114px,#0018c9 0 115px,#0000eb 0 116px,#000bb6 0 117px,#000fd0 0 118px,#000096 0 119px,#0000d8 0 120px,#0000af 0 121px,#0000db 0 122px,#0000bc 0 123px,#0006ae 0 124px,#0007e9 0 125px,#0000f8 0 126px,#0000f0 0 127px,#0000c7 0 128px,#0000bb 0 129px,#0000a1 0 130px,#000080 0 212px)"></div>
</div></div>
<div class="cb" style="left:520px;top:8.2px;width:4px;height:132.8px"></div>
<div class="t yt" style="left:282.90px;top:4.55px">24</div>
<div class="t yt" style="left:282.90px;top:18.68px">22</div>
<div class="t yt" style="left:282.90px;top:32.81px">20</div>
<div class="t yt" style="left:282.90px;top:48.23px">18</div>
<div class="t yt" style="left:282.90px;top:62.65px">16</div>
<div class="t yt" style="left:282.90px;top:77.67px">14</div>
<div class="t yt" style="left:282.90px;top:92.20px">12</div>
<div class="t yt" style="left:282.90px;top:107.42px">10</div>
<div class="t yt" style="left:282.90px;top:122.14px">8</div>
<div class="t yt" style="left:282.90px;top:137.85px">6</div>
<div class="t yt" style="left:282.90px;top:153.46px">4</div>
<div class="t yt" style="left:282.90px;top:168.88px">2</div>
<div class="t yt" style="left:282.90px;top:183.80px">0</div>
<div class="t mt" style="left:315.00px;top:191.40px;transform:scaleX(0.92)">Jan</div>
<div class="t mt" style="left:331.50px;top:191.40px;transform:scaleX(0.89)">Feb</div>
<div class="t mt" style="left:350.20px;top:191.40px;transform:scaleX(1.12)">Mar</div>
<div class="t mt" style="left:366.50px;top:191.40px;transform:scaleX(1)">Apr</div>
<div class="t mt" style="left:384.40px;top:191.40px;transform:scaleX(1.05)">May</div>
<div class="t mt" style="left:401.00px;top:191.40px;transform:scaleX(0.92)">Jun</div>
<div class="t mt" style="left:417.50px;top:191.40px;transform:scaleX(0.9)">Jul</div>
<div class="t mt" style="left:437.00px;top:191.40px;transform:scaleX(0.93)">Aug</div>
<div class="t mt" style="left:455.00px;top:191.40px;transform:scaleX(0.93)">Sep</div>
<div class="t mt" style="left:471.20px;top:191.40px;transform:scaleX(0.92)">Oct</div>
<div class="t mt" style="left:489.20px;top:191.40px;transform:scaleX(0.89)">Nov</div>
<div class="t mt" style="left:508.00px;top:191.40px;transform:scaleX(1)">Dec</div>
<div class="t ct" style="left:526.60px;top:5.90px">2.6</div>
<div class="t ct" style="left:526.60px;top:18.90px">2.34</div>
<div class="t ct" style="left:526.60px;top:31.90px">2.08</div>
<div class="t ct" style="left:526.60px;top:44.90px">1.82</div>
<div class="t ct" style="left:526.60px;top:57.90px">1.56</div>
<div class="t ct" style="left:526.60px;top:70.90px">1.3</div>
<div class="t ct" style="left:526.60px;top:83.90px">1.04</div>
<div class="t ct" style="left:526.60px;top:96.90px">0.78</div>
<div class="t ct" style="left:526.60px;top:109.90px">0.52</div>
<div class="t ct" style="left:526.60px;top:122.90px">0.26</div>
<div class="t ct" style="left:526.60px;top:135.90px">0</div>
<div class="t yl" style="left:288.60px;top:93.00px">Hours of day</div>
<div class="cap" style="left:282.2px;top:216.7px">(<b>f</b>) DC to AC ratio = 1.87</div>
<div class="pl" style="left:26px;top:246px;width:214.1px;height:182.7px"><div class="hm">
<div class="rw" style="top:107.17px;height:7.61px;width:215px;background-image:linear-gradient(90deg,#000080 0 51px,#000083 0 52px,#000080 0 53px,#000096 0 54px,#0000b1 0 55px,#0000aa 0 56px,#0000ac 0 57px,#0000b7 0 58px,#00009e 0 59px,#0000c1 0 60px,#00008c 0 61px,#0000a5 0 62px,#0000ad 0 63px,#0000ef 0 64px,#0000da 0 65px,#00009e 0 66px,#0000c1 0 67px,#0000a5 0 68px,#0000bd 0 69px,#0000ba 0 70px,#000096 0 71px,#0000e0 0 72px,#0005df 0 73px,#0002dd 0 74px,#000afe 0 75px,#0008b4 0 76px,#0015ff 0 77px,#0014ff 0 78px,#001bff 0 79px,#0030ff 0 80px,#0023ff 0 81px,#0003fe 0 82px,#000fce 0 83px,#0033ff 0 84px,#0013f0 0 85px,#001efd 0 86px,#0002ed 0 87px,#0016f4 0 88px,#0032ff 0 89px,#000194 0 90px,#000cd5 0 91px,#0036ff 0 92px,#0020ff 0 93px,#0005ee 0 94px,#000ecb 0 95px,#0018f3 0 96px,#001bb7 0 97px,#002cff 0 98px,#0014ff 0 99px,#0033ff 0 100px,#0024ff 0 101px,#0010ff 0 102px,#0014d8 0 103px,#0013ba 0 104px,#0014ff 0 105px,#0019ca 0 106px,#0020e9 0 107px,#0014f7 0 108px,#0000bf 0 109px,#0002f8 0 110px,#0030fe 0 111px,#0000bc 0 112px,#000aef 0 113px,#0001f6 0 114px,#000ff7 0 115px,#001ab8 0 116px,#0019ff 0 117px,#0018ce 0 118px,#0025ed 0 119px,#0000a6 0 120px,#0000c8 0 121px,#0000b8 0 122px,#0003ef 0 123px,#0000cf 0 124px,#0002a2 0 125px,#0012f7 0 126px,#0022fd 0 127px,#000cfa 0 128px,#0011fb 0 129px,#0000ac 0 130px,#000fe2 0 131px,#000080 0 132px,#00008e 0 133px,#000080 0 134px,#000091 0 135px,#000080 0 136px,#0000a1 0 137px,#00008a 0 138px,#000087 0 139px,#000080 0 215px)"></div>
<div class="rw" style="top:99.56px;height:7.61px;width:215px;background-image:linear-gradient(90deg,#000080 0 25px,#000082 0 26px,#000084 0 27px,#000080 0 29px,#000083 0 30px,#000096 0 31px,#00009a 0 32px,#000089 0 33px,#0000ab 0 34px,#000080 0 35px,#000099 0 36px,#0000e5 0 37px,#000ad8 0 38px,#0003d7 0 39px,#0012ef 0 40px,#0000df 0 41px,#000cfc 0 42px,#0000e2 0 43px,#0000b0 0 44px,#0011b5 0 45px,#0028ff 0 46px,#001cff 0 47px,#004dff 0 48px,#005eff 0 49px,#001bb4 0 50px,#0031ff 0 51px,#0046ce 0 52px,#0060e5 0 53px,#0081ff 0 54px,#00c2ff 0 55px,#00e1fc 0 56px,#1dda9d 0 57px,#21ef83 0 58px,#11dac4 0 59px,#38e95e 0 60px,#12e1c2 0 61px,#12f3a2 0 62px,#19c6bd 0 63px,#62eb37 0 64px,#3bed64 0 65px,#11f6b4 0 66px,#41ee67 0 67px,#19e5b6 0 68px,#28ec77 0 69px,#1ee992 0 70px,#14e6b2 0 71px,#2eeb6a 0 72px,#4aec50 0 73px,#31eb68 0 74px,#35ea64 0 75px,#2a6199 0 76px,#78ee25 0 77px,#7dee22 0 78px,#62ea36 0 79px,#c6f80d 0 80px,#7bee24 0 81px,#6bec2d 0 82px,#51f467 0 83px,#9bf316 0 84px,#61ee40 0 85px,#62ea35 0 86px,#2ef078 0 87px,#4ef15c 0 88px,#75ee2e 0 89px,#0b37cb 0 90px,#22b598 0 91px,#79ee25 0 92px,#5eec3b 0 93px,#27ea81 0 94px,#25e59d 0 95px,#1cf193 0 96px,#28c9af 0 97px,#6fec2d 0 98px,#55ea41 0 99px,#83f02a 0 100px,#61ec3b 0 101px,#35ea63 0 102px,#2deaa8 0 103px,#24ceb1 0 104px,#35ea60 0 105px,#2c8680 0 106px,#4ec455 0 107px,#46e757 0 108px,#12d7bd 0 109px,#30ef74 0 110px,#5eeb39 0 111px,#15d4bb 0 112px,#2eea77 0 113px,#23ef81 0 114px,#32e364 0 115px,#286761 0 116px,#3de957 0 117px,#1fe9b4 0 118px,#3bf171 0 119px,#03d8de 0 120px,#28d588 0 121px,#10cdc5 0 122px,#14f29d 0 123px,#0bf6b8 0 124px,#0c6385 0 125px,#24f093 0 126px,#49ea53 0 127px,#2feb6b 0 128px,#27ed78 0 129px,#0bcad0 0 130px,#34d678 0 131px,#0038b4 0 132px,#00b5ff 0 133px,#009cff 0 134px,#00b1ff 0 135px,#009eff 0 136px,#00f1ff 0 137px,#00eeff 0 138px,#00c4ff 0 139px,#0096f7 0 140px,#0099fb 0 141px,#004dff 0 142px,#00f8ff 0 143px,#00cfff 0 144px,#00abff 0 145px,#0082ff 0 146px,#0034dd 0 147px,#008aff 0 149px,#0031f9 0 150px,#0052fd 0 151px,#0032fd 0 152px,#006fff 0 153px,#0083ff 0 154px,#007aff 0 155px,#0045ff 0 156px,#005eff 0 157px,#005af3 0 158px,#002cea 0 159px,#002fff 0 160px,#0004b1 0 161px,#0000a3 0 162px,#000080 0 215px)"></div>
<div class="rw" style="top:91.95px;height:7.61px;width:215px;background-image:linear-gradient(90deg,#000080 0 13px,#000081 0 14px,#000080 0 18px,#000084 0 19px,#000087 0 20px,#000088 0 21px,#0000ba 0 22px,#000094 0 23px,#0000b2 0 24px,#0000ae 0 25px,#0003be 0 26px,#0006f0 0 27px,#0000ae 0 28px,#0000ec 0 29px,#0005de 0 30px,#0020e0 0 31px,#002af1 0 32px,#0016ec 0 33px,#006fff 0 34px,#001cb4 0 35px,#0072f8 0 36px,#01eff3 0 37px,#06eeda 0 38px,#02d0ea 0 39px,#06f5cc 0 40px,#00effa 0 41px,#01fdeb 0 42px,#01f3f4 0 43px,#02a2ed 0 44px,#498e99 0 45px,#9af314 0 46px,#77ed27 0 47px,#9af315 0 48px,#edf103 0 49px,#43bdac 0 50px,#66f44f 0 51px,#65c46b 0 52px,#a1de39 0 53px,#d4fa04 0 54px,#c8f70e 0 55px,#dae807 0 56px,#e88e03 0 57px,#ffa800 0 58px,#afb516 0 59px,#ff9300 0 60px,#c0ee0d 0 61px,#ecd801 0 62px,#97b128 0 63px,#ff5200 0 64px,#ff8300 0 65px,#ffba00 0 66px,#ff7a00 0 67px,#bfcd0f 0 68px,#fa6f01 0 69px,#f49901 0 70px,#e9d503 0 71px,#ff8300 0 72px,#ff7f00 0 73px,#ff9e00 0 74px,#ff8a00 0 75px,#698896 0 76px,#ff5f00 0 77px,#ff4d00 0 78px,#ff6d00 0 79px,#ff2b00 0 80px,#ff4200 0 81px,#ff7300 0 82px,#ff9200 0 83px,#ff5f00 0 84px,#ff8e00 0 85px,#ff8100 0 86px,#fda400 0 87px,#fb8700 0 88px,#ff6100 0 89px,#30c3b7 0 90px,#b49f2c 0 91px,#ff4d00 0 92px,#ff5800 0 93px,#f58601 0 94px,#e0b204 0 95px,#ffa500 0 96px,#b5bc13 0 97px,#fe6100 0 98px,#f42e00 0 99px,#ff3100 0 100px,#ff4e00 0 101px,#ff7e00 0 102px,#fbbf00 0 103px,#d3b207 0 104px,#ff5f00 0 105px,#95726a 0 106px,#c12e2b 0 107px,#f57403 0 108px,#b7cb14 0 109px,#ff9200 0 110px,#ff5700 0 111px,#c3bf0d 0 112px,#fb8c01 0 113px,#ff9200 0 114px,#f76e07 0 115px,#71147b 0 116px,#ff7d00 0 117px,#e0b403 0 118px,#ff6200 0 119px,#d1db0d 0 120px,#ddb709 0 121px,#cac80a 0 122px,#fe9000 0 123px,#fddd00 0 124px,#697796 0 125px,#ff8900 0 126px,#ff6000 0 127px,#ff7f00 0 128px,#ff7400 0 129px,#88c039 0 130px,#d09923 0 131px,#0666a8 0 132px,#77ed28 0 133px,#56ef51 0 134px,#40f069 0 135px,#5ff55a 0 136px,#e8fc02 0 137px,#a2f313 0 138px,#84ef20 0 139px,#4af15d 0 140px,#27f490 0 141px,#0cf7d9 0 142px,#a0f313 0 143px,#83ef20 0 144px,#9ef313 0 145px,#67ea34 0 146px,#42db9e 0 147px,#5aec43 0 148px,#73ed2b 0 149px,#23f5ad 0 150px,#38e775 0 151px,#35e884 0 152px,#6dec2f 0 153px,#75ed2b 0 154px,#57ed49 0 155px,#31ef74 0 156px,#3ee959 0 157px,#09cfd4 0 158px,#0094ff 0 159px,#0091ff 0 160px,#0043fc 0 161px,#004eff 0 162px,#0068ff 0 163px,#0074ff 0 164px,#006aff 0 165px,#006cff 0 166px,#008bff 0 167px,#0066ff 0 168px,#006bff 0 169px,#0074ff 0 170px,#002cff 0 171px,#0013f7 0 172px,#0000f0 0 173px,#0000ae 0 174px,#0000c0 0 175px,#000092 0 176px,#0000a1 0 177px,#000096 0 178px,#000095 0 179px,#00008d 0 180px,#000080 0 215px)"></div>
<div class="rw" style="top:84.34px;height:7.61px;width:215px;background-image:linear-gradient(90deg,#000080 0 18px,#00009d 0 19px,#0000bb 0 20px,#0000d4 0 21px,#0000d7 0 22px,#0000b6 0 23px,#000edd 0 24px,#0001e3 0 25px,#0018ec 0 26px,#0056fe 0 27px,#0014e6 0 28px,#005aff 0 29px,#005dff 0 30px,#0063ff 0 31px,#0061ff 0 32px,#0036ff 0 33px,#00aeff 0 34px,#0032cb 0 35px,#028bef 0 36px,#09f7be 0 37px,#09f8c2 0 38px,#05fbd9 0 39px,#18ee9e 0 40px,#00e8ff 0 41px,#0af6bc 0 42px,#04f6e5 0 43px,#01c0f1 0 44px,#4c9b98 0 45px,#cff905 0 46px,#a0ef1d 0 47px,#e7e702 0 48px,#fac700 0 49px,#53d69d 0 50px,#bae417 0 51px,#9ed961 0 52px,#cbcc34 0 53px,#ffe300 0 54px,#ffb900 0 55px,#efc602 0 56px,#ec5702 0 57px,#ee0a00 0 58px,#f66900 0 59px,#f70900 0 60px,#ffaa00 0 61px,#ff6100 0 62px,#e69701 0 63px,#f21800 0 64px,#ff1700 0 65px,#ff5400 0 66px,#ff3200 0 67px,#e89e02 0 68px,#fd3600 0 69px,#f74100 0 70px,#ffa600 0 71px,#fc1100 0 72px,#ff1d00 0 73px,#ff3700 0 74px,#ff3a00 0 75px,#698b96 0 76px,#ff0b00 0 77px,#ff1e00 0 78px,#ff2e00 0 79px,#f41c00 0 80px,#ff4900 0 81px,#ff0d00 0 82px,#fe6f00 0 83px,#fd0900 0 84px,#fe5a00 0 85px,#ff4e00 0 86px,#ff7f00 0 87px,#ff6700 0 88px,#ed2400 0 89px,#3ac7a9 0 90px,#c0841a 0 91px,#ed0000 0 92px,#fd2400 0 93px,#ff5800 0 94px,#ff7f00 0 95px,#ff5b00 0 96px,#c0a309 0 97px,#ee0600 0 98px,#fc0e00 0 99px,#ff1f00 0 100px,#ff2900 0 101px,#ff3c00 0 102px,#ff7e00 0 103px,#fe9e00 0 104px,#ff2a00 0 105px,#957e67 0 106px,#d4332a 0 107px,#ff1600 0 108px,#ffb000 0 109px,#ff3400 0 110px,#ff1d00 0 111px,#ddae04 0 112px,#fd2e00 0 113px,#ff4400 0 114px,#f74608 0 115px,#6c118e 0 116px,#fd1600 0 117px,#fe8900 0 118px,#fc2f00 0 119px,#d5cf0b 0 120px,#e07308 0 121px,#ffa400 0 122px,#ff7900 0 123px,#ff9a00 0 124px,#696e96 0 125px,#ff5600 0 126px,#ff2400 0 127px,#ff2b00 0 128px,#ff4000 0 129px,#d7c305 0 130px,#d67815 0 131px,#1661aa 0 132px,#ffdd00 0 133px,#cec215 0 134px,#b9c71c 0 135px,#cade0b 0 136px,#ff8500 0 137px,#ffab00 0 138px,#ffc500 0 139px,#98bf27 0 140px,#a8dc13 0 141px,#60e63c 0 142px,#ffb100 0 143px,#ffdb00 0 144px,#f5f202 0 145px,#a8f40f 0 146px,#68f96a 0 147px,#b0f511 0 148px,#bfdf15 0 149px,#51f35f 0 150px,#70f33f 0 151px,#8cf840 0 152px,#9af314 0 153px,#d4f506 0 154px,#85ec32 0 155px,#73ef37 0 156px,#dcfb05 0 157px,#51cd6d 0 158px,#00b5ff 0 159px,#00b3ff 0 160px,#005cff 0 161px,#0052ff 0 162px,#008aff 0 164px,#0090ff 0 165px,#0084ff 0 166px,#0088ff 0 167px,#0087ff 0 168px,#0089ff 0 169px,#008fff 0 170px,#0076ff 0 171px,#0062ff 0 172px,#006cff 0 173px,#0025ff 0 174px,#001afb 0 175px,#0000b0 0 176px,#0000da 0 177px,#0000c4 0 178px,#0000be 0 179px,#0000a8 0 180px,#000092 0 181px,#0000bb 0 182px,#000099 0 183px,#00008a 0 184px,#000080 0 215px)"></div>
<div class="rw" style="top:76.72px;height:7.61px;width:215px;background-image:linear-gradient(90deg,#000080 0 15px,#000083 0 16px,#000084 0 17px,#00008f 0 18px,#0000ab 0 19px,#0000c4 0 20px,#0000d6 0 21px,#0003f5 0 22px,#0003ad 0 23px,#0000dd 0 24px,#0000ca 0 25px,#0010c9 0 26px,#002afe 0 27px,#0007dc 0 28px,#0021ff 0 29px,#0024ff 0 30px,#004cfc 0 31px,#0061fe 0 32px,#0034ff 0 33px,#00b7ff 0 34px,#0027b4 0 35px,#0060ff 0 36px,#00d7ff 0 37px,#02dce7 0 38px,#01c7f8 0 39px,#00eff5 0 40px,#00f7ff 0 41px,#0df5b1 0 42px,#04dbe2 0 43px,#03a4e8 0 44px,#618694 0 45px,#ddfb03 0 46px,#92f01c 0 47px,#cef40a 0 48px,#f5ea02 0 49px,#65ef96 0 50px,#f0d201 0 51px,#9fa350 0 52px,#cc912b 0 53px,#ff8300 0 54px,#ff7d00 0 55px,#dc9d09 0 56px,#d79e0a 0 57px,#ff6100 0 58px,#e5b902 0 59px,#ff8000 0 60px,#b2cc15 0 61px,#f6cc00 0 62px,#acb518 0 63px,#ff2f00 0 64px,#ff6500 0 65px,#ffa100 0 66px,#ff7f00 0 67px,#cab50a 0 68px,#fb8501 0 69px,#ee8803 0 70px,#dde606 0 71px,#ff7c00 0 72px,#ff5b00 0 73px,#ff8900 0 74px,#ff8000 0 75px,#699496 0 76px,#ff8800 0 77px,#ff9700 0 78px,#ff8800 0 79px,#ff5f00 0 80px,#ff5d00 0 81px,#ff9600 0 82px,#efbb01 0 83px,#ff6400 0 84px,#ff9500 0 85px,#ff8700 0 86px,#ff9e00 0 87px,#ffa600 0 88px,#ff7000 0 89px,#2e91bd 0 90px,#b19c34 0 91px,#ff5800 0 92px,#ff6c00 0 93px,#f19903 0 94px,#d4af08 0 95px,#ffb700 0 96px,#b0bf15 0 97px,#ff5a00 0 98px,#ff6500 0 99px,#ff6900 0 100px,#ff6e00 0 101px,#ff6700 0 102px,#d7b705 0 103px,#c8bf0a 0 104px,#ff9600 0 105px,#95916a 0 106px,#d4452b 0 107px,#f48504 0 108px,#adc61c 0 109px,#ff9d00 0 110px,#ff5000 0 111px,#96b02e 0 112px,#f8a003 0 113px,#ff9600 0 114px,#f76c08 0 115px,#71328e 0 116px,#ff6b00 0 117px,#bfbc0e 0 118px,#ff9c00 0 119px,#bcd31f 0 120px,#ceb017 0 121px,#a9c21a 0 122px,#fe9a00 0 123px,#ffe400 0 124px,#699396 0 125px,#ff8c00 0 126px,#ff8200 0 127px,#ff8a00 0 128px,#ff8d00 0 129px,#a3c21e 0 130px,#d9a311 0 131px,#1b6080 0 132px,#8cf01e 0 133px,#59f25e 0 134px,#7ffb65 0 135px,#52f466 0 136px,#dbfb04 0 137px,#baf70c 0 138px,#7fee26 0 139px,#75f255 0 140px,#4bf067 0 141px,#18f4c0 0 142px,#bef709 0 143px,#a1f312 0 144px,#6aee3a 0 145px,#53f052 0 146px,#29e6ac 0 147px,#42ec57 0 148px,#6eec2e 0 149px,#26edac 0 150px,#4df064 0 151px,#4ff36f 0 152px,#72ed2a 0 153px,#8bf01d 0 154px,#5ce939 0 155px,#38ee68 0 156px,#5eea38 0 157px,#1fc698 0 158px,#006dff 0 159px,#00a2ff 0 160px,#005fff 0 161px,#0053ff 0 162px,#00a2ff 0 163px,#008aff 0 164px,#00a0ff 0 165px,#007aff 0 166px,#00a9ff 0 167px,#0093ff 0 168px,#008eff 0 169px,#0084ff 0 170px,#005bff 0 171px,#0023ff 0 172px,#0015ff 0 173px,#0000c3 0 174px,#0004e0 0 175px,#00009b 0 176px,#0000a7 0 177px,#00008c 0 178px,#000081 0 179px,#000080 0 215px)"></div>
<div class="rw" style="top:69.11px;height:7.61px;width:215px;background-image:linear-gradient(90deg,#000080 0 30px,#000084 0 31px,#00008d 0 32px,#000089 0 33px,#0000b2 0 34px,#000080 0 35px,#00089b 0 36px,#0010f8 0 37px,#0026ff 0 38px,#0017ff 0 39px,#0040ff 0 40px,#001dff 0 41px,#0046ff 0 42px,#0036ff 0 43px,#002ee1 0 44px,#0269b1 0 45px,#05f5d3 0 46px,#02f6ef 0 47px,#0ef6b7 0 48px,#19f296 0 49px,#0d7dd6 0 50px,#09f4cc 0 51px,#109ab9 0 52px,#15c3a9 0 53px,#07f9c9 0 54px,#1df08b 0 55px,#07dbcd 0 56px,#19d1a6 0 57px,#17f39f 0 58px,#13d5c1 0 59px,#12f4a9 0 60px,#07cfd9 0 61px,#08e8d7 0 62px,#07add8 0 63px,#30ec6f 0 64px,#38eb62 0 65px,#09f1e8 0 66px,#10ebb2 0 67px,#08ded4 0 68px,#12f2a4 0 69px,#25e289 0 70px,#04e2de 0 71px,#15f4ad 0 72px,#38ea63 0 73px,#2ced72 0 74px,#78ed29 0 75px,#366391 0 76px,#67ea34 0 77px,#78ed29 0 78px,#57e93f 0 79px,#a3f412 0 80px,#91f11a 0 81px,#7bee24 0 82px,#4cf05b 0 83px,#70ec30 0 84px,#58f45d 0 85px,#8df220 0 86px,#4cef59 0 87px,#4bf05a 0 88px,#60ea36 0 89px,#114bcd 0 90px,#38cc82 0 91px,#93f118 0 92px,#77ed2a 0 93px,#41e562 0 94px,#2fe493 0 95px,#4aee55 0 96px,#3aeea1 0 97px,#d0f909 0 98px,#b5f60c 0 99px,#67ef3c 0 100px,#5eee42 0 101px,#5fe937 0 102px,#30f2a6 0 103px,#33daa4 0 104px,#5aeb40 0 105px,#659872 0 106px,#99d038 0 107px,#76f031 0 108px,#19f3b4 0 109px,#6bec2f 0 110px,#c0f70e 0 111px,#46f785 0 112px,#5aea3e 0 113px,#4ce949 0 114px,#68e430 0 115px,#586e4a 0 116px,#85ef23 0 117px,#42fa9a 0 118px,#43ed5a 0 119px,#08ddce 0 120px,#35da7a 0 121px,#29e9a9 0 122px,#3ce859 0 123px,#2bec71 0 124px,#196294 0 125px,#62ee3d 0 126px,#6aec30 0 127px,#8ef11b 0 128px,#6cec2e 0 129px,#13dec3 0 130px,#33d677 0 131px,#003db4 0 132px,#00f0ff 0 133px,#00adff 0 134px,#00afff 0 135px,#00a9ff 0 136px,#03f7df 0 137px,#01e7f7 0 138px,#02d0ea 0 139px,#009cff 0 140px,#0090ff 0 141px,#005cff 0 142px,#00e4ff 0 143px,#00bfff 0 144px,#00bdff 0 145px,#00a3ff 0 146px,#003ef3 0 147px,#0088ff 0 148px,#0089ff 0 149px,#0018ff 0 150px,#0044fd 0 151px,#003afd 0 152px,#0084ff 0 153px,#006aff 0 154px,#0032ff 0 155px,#0000e4 0 156px,#0003f0 0 157px,#0003dd 0 158px,#0000b3 0 159px,#0000be 0 160px,#000097 0 161px,#000093 0 162px,#000080 0 215px)"></div>
<div class="rw" style="top:61.50px;height:7.61px;width:215px;background-image:linear-gradient(90deg,#000080 0 52px,#000084 0 53px,#000092 0 54px,#00009e 0 55px,#0000b8 0 56px,#0000ab 0 57px,#0000ce 0 58px,#00009f 0 59px,#0000c3 0 60px,#00008e 0 61px,#0000a4 0 62px,#0004aa 0 63px,#0005f9 0 64px,#0000ef 0 65px,#0000a5 0 66px,#0000cf 0 67px,#0000a3 0 68px,#0000b6 0 69px,#0000bd 0 70px,#0000aa 0 71px,#0000bb 0 72px,#0000db 0 73px,#0009e8 0 74px,#0015ff 0 75px,#0019b4 0 76px,#002bff 0 77px,#0032ff 0 78px,#0016ff 0 79px,#003cff 0 80px,#0028ff 0 81px,#003cff 0 82px,#001bf7 0 83px,#0046ff 0 84px,#001ee9 0 85px,#0021fd 0 86px,#000af1 0 87px,#000dee 0 88px,#0043ff 0 89px,#000694 0 90px,#0014d5 0 91px,#0042ff 0 92px,#002bff 0 93px,#0003ef 0 94px,#0017db 0 95px,#0012f8 0 96px,#0012c4 0 97px,#004aff 0 98px,#002fff 0 99px,#002aff 0 100px,#0031ff 0 101px,#002fff 0 102px,#0016d7 0 103px,#000ebe 0 104px,#0007ff 0 105px,#0015ca 0 106px,#0020e9 0 107px,#003bf8 0 108px,#0005c8 0 109px,#0019ff 0 110px,#0037ff 0 111px,#0012cc 0 112px,#000df3 0 113px,#0027fa 0 114px,#001bfb 0 115px,#0029b8 0 116px,#002dff 0 117px,#0010de 0 118px,#002ffa 0 119px,#0000c5 0 120px,#000edf 0 121px,#0012b5 0 122px,#0019fe 0 123px,#0004f1 0 124px,#0007b4 0 125px,#0031ff 0 126px,#0029ff 0 127px,#002eff 0 128px,#0016ff 0 129px,#000ab4 0 130px,#0005e3 0 131px,#000080 0 132px,#0000a5 0 133px,#000086 0 134px,#000090 0 135px,#000080 0 136px,#0000a6 0 137px,#000090 0 138px,#000084 0 139px,#000085 0 140px,#000082 0 141px,#000080 0 215px)"></div>
</div></div>
<div class="cb" style="left:243.5px;top:246px;width:4.2px;height:134.3px"></div>
<div class="t yt" style="left:4.80px;top:242.60px">24</div>
<div class="t yt" style="left:4.80px;top:256.89px">22</div>
<div class="t yt" style="left:4.80px;top:271.18px">20</div>
<div class="t yt" style="left:4.80px;top:286.78px">18</div>
<div class="t yt" style="left:4.80px;top:301.37px">16</div>
<div class="t yt" style="left:4.80px;top:316.56px">14</div>
<div class="t yt" style="left:4.80px;top:331.25px">12</div>
<div class="t yt" style="left:4.80px;top:346.64px">10</div>
<div class="t yt" style="left:4.80px;top:361.53px">8</div>
<div class="t yt" style="left:4.80px;top:377.43px">6</div>
<div class="t yt" style="left:4.80px;top:393.22px">4</div>
<div class="t yt" style="left:4.80px;top:408.81px">2</div>
<div class="t yt" style="left:4.80px;top:423.90px">0</div>
<div class="t mt" style="left:37.00px;top:431.00px;transform:scaleX(0.92)">Jan</div>
<div class="t mt" style="left:53.80px;top:431.00px;transform:scaleX(0.89)">Feb</div>
<div class="t mt" style="left:73.00px;top:431.00px;transform:scaleX(1.12)">Mar</div>
<div class="t mt" style="left:89.50px;top:431.00px;transform:scaleX(1)">Apr</div>
<div class="t mt" style="left:108.00px;top:431.00px;transform:scaleX(1.05)">May</div>
<div class="t mt" style="left:124.00px;top:431.00px;transform:scaleX(0.92)">Jun</div>
<div class="t mt" style="left:141.50px;top:431.00px;transform:scaleX(0.9)">Jul</div>
<div class="t mt" style="left:161.00px;top:431.00px;transform:scaleX(0.93)">Aug</div>
<div class="t mt" style="left:179.00px;top:431.00px;transform:scaleX(0.93)">Sep</div>
<div class="t mt" style="left:195.60px;top:431.00px;transform:scaleX(0.92)">Oct</div>
<div class="t mt" style="left:213.80px;top:431.00px;transform:scaleX(0.89)">Nov</div>
<div class="t mt" style="left:233.00px;top:431.00px;transform:scaleX(1)">Dec</div>
<div class="t ct" style="left:249.10px;top:244.60px">2.9</div>
<div class="t ct" style="left:249.10px;top:257.63px">2.61</div>
<div class="t ct" style="left:249.10px;top:270.66px">2.32</div>
<div class="t ct" style="left:249.10px;top:283.69px">2.03</div>
<div class="t ct" style="left:249.10px;top:296.72px">1.74</div>
<div class="t ct" style="left:249.10px;top:309.75px">1.45</div>
<div class="t ct" style="left:249.10px;top:322.78px">1.16</div>
<div class="t ct" style="left:249.10px;top:335.81px">0.87</div>
<div class="t ct" style="left:249.10px;top:348.84px">0.58</div>
<div class="t ct" style="left:249.10px;top:361.87px">0.29</div>
<div class="t ct" style="left:249.10px;top:374.90px">0</div>
<div class="t yl" style="left:10.00px;top:332.30px">Hours of day</div>
<div class="cap" style="left:4.8px;top:454.2px">(<b>g</b>) DC to AC ratio = 1.98</div>
<div class="pl" style="left:304px;top:247.5px;width:214.5px;height:180.2px"><div class="hm">
<div class="rw" style="top:105.72px;height:7.51px;width:215px;background-image:linear-gradient(90deg,#000080 0 48px,#000082 0 49px,#000084 0 50px,#000086 0 51px,#0000a5 0 52px,#0000a6 0 53px,#0000c7 0 54px,#0000e9 0 55px,#0000d8 0 56px,#0000c7 0 57px,#0000e8 0 58px,#0000b3 0 59px,#0000fa 0 60px,#0000ac 0 61px,#0004be 0 62px,#000ab4 0 63px,#0026ff 0 64px,#000dff 0 65px,#0006d9 0 66px,#0007e6 0 67px,#0004d3 0 68px,#0002e0 0 69px,#0002f5 0 70px,#0000b8 0 71px,#0014fb 0 72px,#0023fa 0 73px,#0017ee 0 74px,#003bff 0 75px,#0018b4 0 76px,#0045ff 0 77px,#0047ff 0 78px,#0048ff 0 79px,#005aff 0 80px,#0059ff 0 81px,#0036ff 0 82px,#001bee 0 83px,#0063ff 0 84px,#003fff 0 85px,#0047ff 0 86px,#0028ff 0 87px,#0031ff 0 88px,#0065ff 0 89px,#0012a9 0 90px,#001ebf 0 91px,#0062ff 0 92px,#0055ff 0 93px,#0039ff 0 94px,#001ddb 0 95px,#0036ff 0 96px,#002cd8 0 97px,#0062ff 0 98px,#0048ff 0 99px,#005fff 0 100px,#0053ff 0 101px,#0041ff 0 102px,#0021f7 0 103px,#002bdc 0 104px,#0047fe 0 105px,#0040e3 0 106px,#003dd0 0 107px,#0040ff 0 108px,#0016dc 0 109px,#002aff 0 110px,#005aff 0 111px,#0021eb 0 112px,#0029f1 0 113px,#0025ff 0 114px,#0035ff 0 115px,#0025b4 0 116px,#004aff 0 117px,#0035f1 0 118px,#004bfb 0 119px,#0005e9 0 120px,#0007e0 0 121px,#0015eb 0 122px,#0023f2 0 123px,#0007ff 0 124px,#0000ca 0 125px,#0038e9 0 126px,#0046ff 0 127px,#003aff 0 128px,#0043ff 0 129px,#0010cf 0 130px,#0035ff 0 131px,#000486 0 132px,#0000b8 0 133px,#0000a8 0 134px,#0000a3 0 135px,#00009c 0 136px,#0000d0 0 137px,#0000bb 0 138px,#0000ba 0 139px,#000091 0 140px,#000096 0 141px,#000080 0 142px,#00009b 0 143px,#00008b 0 144px,#000080 0 215px)"></div>
<div class="rw" style="top:98.21px;height:7.51px;width:215px;background-image:linear-gradient(90deg,#000080 0 21px,#000083 0 22px,#000084 0 23px,#000080 0 25px,#000089 0 26px,#0000a8 0 27px,#000090 0 28px,#0000a0 0 29px,#00008e 0 30px,#0000b7 0 31px,#0000ba 0 32px,#00008a 0 33px,#0000e3 0 34px,#000088 0 35px,#000694 0 36px,#001cff 0 37px,#001bf4 0 38px,#0012ff 0 39px,#0032ff 0 40px,#0013ff 0 41px,#0037ff 0 42px,#0017ff 0 43px,#0011dd 0 44px,#001daf 0 45px,#0055ff 0 46px,#004cff 0 47px,#0079ff 0 48px,#0089ff 0 49px,#0035bd 0 50px,#005aff 0 51px,#006ce7 0 52px,#0072e5 0 53px,#00a7ff 0 54px,#00e5ff 0 55px,#05eeda 0 56px,#2ce194 0 57px,#36ea61 0 58px,#1deeb5 0 59px,#55e83f 0 60px,#26f29f 0 61px,#21f088 0 62px,#1dddb8 0 63px,#87f01d 0 64px,#53ed48 0 65px,#31f175 0 66px,#54f153 0 67px,#31f18a 0 68px,#3beb68 0 69px,#3be960 0 70px,#1bf4b1 0 71px,#49e74a 0 72px,#6aed33 0 73px,#4be949 0 74px,#4de948 0 75px,#326ea6 0 76px,#97f215 0 77px,#a4f411 0 78px,#82ef21 0 79px,#daf207 0 80px,#a3f411 0 81px,#8ef119 0 82px,#5ef14d 0 83px,#c9f808 0 84px,#91f11f 0 85px,#78ed27 0 86px,#5bed43 0 87px,#56f151 0 88px,#a2f315 0 89px,#205cbd 0 90px,#24aca5 0 91px,#91f11a 0 92px,#8ff11b 0 93px,#4be748 0 94px,#28f5a3 0 95px,#35ed68 0 96px,#24deaf 0 97px,#9af216 0 98px,#7dee24 0 99px,#a5f31a 0 100px,#80ee24 0 101px,#52ea45 0 102px,#32f697 0 103px,#41e89a 0 104px,#4fe746 0 105px,#4fb85f 0 106px,#5a996e 0 107px,#62ea37 0 108px,#23e9b2 0 109px,#3ceb5d 0 110px,#88f01c 0 111px,#36e783 0 112px,#41ea71 0 113px,#2eeb6b 0 114px,#56e93e 0 115px,#29616a 0 116px,#62ea36 0 117px,#34f287 0 118px,#5ef250 0 119px,#14eca1 0 120px,#2ed598 0 121px,#2be38e 0 122px,#22e890 0 123px,#1bf08c 0 124px,#1a8a8c 0 125px,#3dc467 0 126px,#53f053 0 127px,#52e943 0 128px,#46e84e 0 129px,#15dfbf 0 130px,#53eb45 0 131px,#0673c6 0 132px,#00ade2 0 133px,#00daff 0 134px,#02b2ed 0 135px,#01b4f3 0 136px,#02fbe0 0 137px,#03fad7 0 138px,#00f1f4 0 139px,#02a5f5 0 140px,#05d1dc 0 141px,#0083ff 0 142px,#04d6d9 0 143px,#02eceb 0 144px,#00e2f5 0 145px,#00b0ff 0 146px,#0045fc 0 147px,#00afff 0 148px,#00b6ff 0 149px,#005fff 0 150px,#009bff 0 151px,#0049ff 0 152px,#009bff 0 153px,#0096ff 0 154px,#00b5ff 0 155px,#0087ff 0 156px,#0080ff 0 157px,#0090ff 0 158px,#0034fd 0 159px,#0069ff 0 160px,#0021cd 0 161px,#0017cb 0 162px,#0000a8 0 163px,#000097 0 164px,#000086 0 165px,#000081 0 166px,#000080 0 215px)"></div>
<div class="rw" style="top:90.70px;height:7.51px;width:215px;background-image:linear-gradient(90deg,#000080 0 13px,#00009c 0 14px,#000099 0 15px,#00009f 0 16px,#000091 0 17px,#000099 0 18px,#0000a8 0 19px,#0000bb 0 20px,#0000c0 0 21px,#0000ed 0 22px,#0000ac 0 23px,#0006df 0 24px,#0001e2 0 25px,#0009e3 0 26px,#002cff 0 27px,#0007dc 0 28px,#001dff 0 29px,#0016fd 0 30px,#003dfb 0 31px,#004cfe 0 32px,#002bff 0 33px,#009eff 0 34px,#0030b4 0 35px,#028af2 0 36px,#07f9cc 0 37px,#0df7c0 0 38px,#0ae4d2 0 39px,#16f299 0 40px,#04fbdc 0 41px,#0cf6b3 0 42px,#06f9cd 0 43px,#09c1cf 0 44px,#47a2aa 0 45px,#c3f808 0 46px,#97f216 0 47px,#c2f808 0 48px,#efe303 0 49px,#5fd29b 0 50px,#75f341 0 51px,#91e04d 0 52px,#a6e14e 0 53px,#fafe00 0 54px,#e0ee05 0 55px,#e4de04 0 56px,#f18d01 0 57px,#ffa100 0 58px,#c4b60c 0 59px,#ff7600 0 60px,#dee405 0 61px,#f7dd01 0 62px,#aabc1a 0 63px,#ff3f00 0 64px,#ff7600 0 65px,#ffa300 0 66px,#ff6c00 0 67px,#ddbc05 0 68px,#f17202 0 69px,#fe7d00 0 70px,#f5d700 0 71px,#ff7d00 0 72px,#ff6900 0 73px,#ff9300 0 74px,#ff7c00 0 75px,#69a496 0 76px,#ff5200 0 77px,#ff4200 0 78px,#ff5e00 0 79px,#ff2a00 0 80px,#ff2d00 0 81px,#ff6600 0 82px,#ff9000 0 83px,#ff4400 0 84px,#ff7400 0 85px,#ff8000 0 86px,#ff7c00 0 87px,#ff9b00 0 88px,#ff4900 0 89px,#58c29e 0 90px,#9bac2f 0 91px,#ff4600 0 92px,#ff4a00 0 93px,#ff6000 0 94px,#ecc201 0 95px,#ff9100 0 96px,#c9c50a 0 97px,#ff5400 0 98px,#ef2600 0 99px,#ff2900 0 100px,#ff4100 0 101px,#ff6f00 0 102px,#ffb300 0 103px,#eab402 0 104px,#fe4a00 0 105px,#c76b38 0 106px,#8c4a5e 0 107px,#ff5700 0 108px,#c2c70c 0 109px,#ff9100 0 110px,#ff4800 0 111px,#e69d04 0 112px,#ed8f03 0 113px,#ff9300 0 114px,#ff6100 0 115px,#692696 0 116px,#ff6200 0 117px,#f8a800 0 118px,#fc5000 0 119px,#f4c002 0 120px,#d0c409 0 121px,#ecaa02 0 122px,#f29101 0 123px,#ffd300 0 124px,#968c69 0 125px,#d3772c 0 126px,#ff5e00 0 127px,#ff7100 0 128px,#ff6300 0 129px,#99b826 0 130px,#ff7500 0 131px,#1e939d 0 132px,#6eba46 0 133px,#9df315 0 134px,#48f05e 0 135px,#60f14d 0 136px,#f0f301 0 137px,#d8fa06 0 138px,#b3f60d 0 139px,#5eee43 0 140px,#65f248 0 141px,#14f3a1 0 142px,#a2f931 0 143px,#a3f411 0 144px,#c3f807 0 145px,#9ff315 0 146px,#34efa6 0 147px,#96f120 0 148px,#86f01f 0 149px,#43f57b 0 150px,#6dec2c 0 151px,#2cf599 0 152px,#93f11a 0 153px,#7cee23 0 154px,#97f122 0 155px,#5ded3f 0 156px,#53ec47 0 157px,#28ee7f 0 158px,#01a0f8 0 159px,#00d2ff 0 160px,#0060ff 0 161px,#009dff 0 162px,#0086ff 0 163px,#00a1ff 0 164px,#0094ff 0 165px,#008dff 0 166px,#00beff 0 167px,#008eff 0 168px,#0097ff 0 169px,#009aff 0 170px,#006bff 0 171px,#0053ff 0 172px,#0025ff 0 173px,#000cf1 0 174px,#0004e6 0 175px,#0001d3 0 176px,#0000c2 0 177px,#0000d4 0 178px,#0000ce 0 179px,#0000cb 0 180px,#000095 0 181px,#0000ab 0 182px,#000091 0 183px,#00008d 0 184px,#000080 0 215px)"></div>
<div class="rw" style="top:83.19px;height:7.51px;width:215px;background-image:linear-gradient(90deg,#000080 0 13px,#000098 0 14px,#0000a4 0 15px,#0000aa 0 16px,#00009d 0 17px,#0000af 0 18px,#0000ce 0 19px,#0000ef 0 20px,#0008ff 0 21px,#000bff 0 22px,#000ae4 0 23px,#0024f5 0 24px,#001dfd 0 25px,#002ffe 0 26px,#0087ff 0 27px,#002bff 0 28px,#0083ff 0 29px,#0085ff 0 30px,#0099ff 0 31px,#008cff 0 32px,#0058ff 0 33px,#00daff 0 34px,#0045eb 0 35px,#04a6ed 0 36px,#1bf08b 0 37px,#18f193 0 38px,#13f3a2 0 39px,#2eec71 0 40px,#02fbea 0 41px,#19f192 0 42px,#0ef6b4 0 43px,#08dad4 0 44px,#4ab2aa 0 45px,#edfb01 0 46px,#bbf110 0 47px,#f9da01 0 48px,#fdc200 0 49px,#64d286 0 50px,#bddf10 0 51px,#b7ce3f 0 52px,#b3c543 0 53px,#ffd100 0 54px,#ffa400 0 55px,#fbb700 0 56px,#f66c00 0 57px,#f00700 0 58px,#f26000 0 59px,#ef0200 0 60px,#ff8400 0 61px,#ff6e00 0 62px,#fa9500 0 63px,#ec0f00 0 64px,#ff1100 0 65px,#ff3c00 0 66px,#ff3100 0 67px,#fd8100 0 68px,#fe4500 0 69px,#f32600 0 70px,#ffa800 0 71px,#f81500 0 72px,#fd1100 0 73px,#ff3100 0 74px,#ff2c00 0 75px,#69a495 0 76px,#ff0300 0 77px,#ff1200 0 78px,#ff2300 0 79px,#f11400 0 80px,#ff4200 0 81px,#ff0c00 0 82px,#fd6500 0 83px,#fa0400 0 84px,#f93a00 0 85px,#ff5a00 0 86px,#ff5600 0 87px,#ff7100 0 88px,#ea1900 0 89px,#5cc19a 0 90px,#b19f19 0 91px,#e90700 0 92px,#f90f00 0 93px,#ff3700 0 94px,#ff8f00 0 95px,#ff4400 0 96px,#deb303 0 97px,#e30100 0 98px,#f80600 0 99px,#ff1300 0 100px,#ff1f00 0 101px,#ff3100 0 102px,#ff7600 0 103px,#ff8d00 0 104px,#ff1c00 0 105px,#c95029 0 106px,#a45c45 0 107px,#fd0200 0 108px,#fe9c00 0 109px,#ff3900 0 110px,#ff0d00 0 111px,#f78100 0 112px,#f95100 0 113px,#ff3500 0 114px,#ff3f00 0 115px,#653896 0 116px,#f90900 0 117px,#ff6900 0 118px,#f82f00 0 119px,#f5a102 0 120px,#d59907 0 121px,#ff6a00 0 122px,#ff8400 0 123px,#ff8d00 0 124px,#968069 0 125px,#d3482c 0 126px,#ff3600 0 127px,#ff1900 0 128px,#ff3400 0 129px,#eeb201 0 130px,#ff5900 0 131px,#368f89 0 132px,#c59f3a 0 133px,#fdae01 0 134px,#a5ca1e 0 135px,#d6d906 0 136px,#ff8300 0 137px,#ff9a00 0 138px,#ff9b00 0 139px,#abda19 0 140px,#debb04 0 141px,#8af01e 0 142px,#dda50c 0 143px,#ffbf00 0 144px,#ffe000 0 145px,#d4f405 0 146px,#6bf350 0 147px,#e9f402 0 148px,#b5e311 0 149px,#7be342 0 150px,#bcf709 0 151px,#76f54e 0 152px,#cff906 0 153px,#d9f905 0 154px,#b8e218 0 155px,#a9f419 0 156px,#c9f613 0 157px,#a9ed20 0 158px,#08afe0 0 159px,#01e6f3 0 160px,#0080ff 0 161px,#00a7ff 0 162px,#009aff 0 163px,#00c2ff 0 164px,#00a6ff 0 165px,#00bbff 0 166px,#00a7ff 0 167px,#00b7ff 0 168px,#00b0ff 0 169px,#00b4ff 0 170px,#00aaff 0 171px,#0096ff 0 172px,#0097ff 0 173px,#0070ff 0 174px,#0047ff 0 175px,#001ced 0 176px,#0007ec 0 177px,#000af5 0 178px,#0004f5 0 179px,#0004ec 0 180px,#0000a0 0 181px,#0000f1 0 182px,#0000db 0 183px,#0000c7 0 184px,#0000ad 0 185px,#000091 0 186px,#000081 0 187px,#00008b 0 188px,#00008e 0 189px,#000080 0 215px)"></div>
<div class="rw" style="top:75.68px;height:7.51px;width:215px;background-image:linear-gradient(90deg,#000080 0 13px,#000088 0 14px,#000097 0 15px,#0000ac 0 16px,#0000a2 0 17px,#0000c6 0 18px,#0000e0 0 19px,#0000f7 0 20px,#000aff 0 21px,#0029ff 0 22px,#0013ce 0 23px,#0012fc 0 24px,#0017eb 0 25px,#0015ee 0 26px,#005cff 0 27px,#001af9 0 28px,#004eff 0 29px,#004fff 0 30px,#007eff 0 31px,#008bff 0 32px,#0056fe 0 33px,#00def9 0 34px,#003dcc 0 35px,#0080fa 0 36px,#01f6f1 0 37px,#08edd7 0 38px,#04e7eb 0 39px,#07f7d2 0 40px,#04fad1 0 41px,#1ef089 0 42px,#0deecc 0 43px,#0bc3cb 0 44px,#5696a9 0 45px,#faf700 0 46px,#b2f60f 0 47px,#e4ea04 0 48px,#f3db02 0 49px,#6bee82 0 50px,#ffd200 0 51px,#bc912d 0 52px,#b79030 0 53px,#ff7600 0 54px,#ff6d00 0 55px,#ef8903 0 56px,#d8a407 0 57px,#ff5a00 0 58px,#fbb400 0 59px,#ff6c00 0 60px,#d1bd09 0 61px,#f4ce02 0 62px,#c0b90d 0 63px,#ff2300 0 64px,#ff6200 0 65px,#ff8000 0 66px,#ff7800 0 67px,#e69e03 0 68px,#f58301 0 69px,#fc7200 0 70px,#e6e403 0 71px,#ff7800 0 72px,#ff4800 0 73px,#ff8300 0 74px,#ff6c00 0 75px,#69ac96 0 76px,#ff7300 0 77px,#ff8900 0 78px,#ff7a00 0 79px,#ff5d00 0 80px,#ff4900 0 81px,#ff7f00 0 82px,#ffc300 0 83px,#ff4f00 0 84px,#ff7e00 0 85px,#ff8400 0 86px,#ff7900 0 87px,#ffa800 0 88px,#ff6400 0 89px,#578fa0 0 90px,#94a939 0 91px,#ff5000 0 92px,#ff5900 0 93px,#ff7800 0 94px,#dcbf04 0 95px,#ffa000 0 96px,#c5c70b 0 97px,#ff5000 0 98px,#ff4a00 0 99px,#ff6200 0 100px,#ff6700 0 101px,#ff5700 0 102px,#edb901 0 103px,#dfae04 0 104px,#fe8a00 0 105px,#c78738 0 106px,#a1575e 0 107px,#ff7300 0 108px,#b5c313 0 109px,#ff8900 0 110px,#ff5800 0 111px,#c88913 0 112px,#d8a40d 0 113px,#ff9200 0 114px,#ff5e00 0 115px,#694a96 0 116px,#ff5c00 0 117px,#dea805 0 118px,#f68b01 0 119px,#ecbc07 0 120px,#afbb1d 0 121px,#d7a609 0 122px,#e4a106 0 123px,#ffbf00 0 124px,#96bb69 0 125px,#d3762c 0 126px,#ff7c00 0 127px,#ff7d00 0 128px,#ff7600 0 129px,#b7c612 0 130px,#ff8000 0 131px,#418f70 0 132px,#94bf38 0 133px,#94f218 0 134px,#6ffb72 0 135px,#6af452 0 136px,#e9fb03 0 137px,#e5f503 0 138px,#b8f60e 0 139px,#61ea46 0 140px,#92e533 0 141px,#2cee7f 0 142px,#b7fc2e 0 143px,#c5f807 0 144px,#a4f31b 0 145px,#85f128 0 146px,#1ef6af 0 147px,#6bec33 0 148px,#82ef22 0 149px,#3ff789 0 150px,#85ef1e 0 151px,#43f67c 0 152px,#9ef313 0 153px,#a9f411 0 154px,#85ef1f 0 155px,#6aee34 0 156px,#6def34 0 157px,#50ec49 0 158px,#0488f2 0 159px,#00cfff 0 160px,#007dff 0 161px,#00a1ff 0 162px,#00adff 0 163px,#00b8ff 0 164px,#00c9ff 0 165px,#00b0ff 0 166px,#00c9ff 0 167px,#00beff 0 168px,#00b2ff 0 169px,#00b5ff 0 170px,#009aff 0 171px,#005dff 0 172px,#004aff 0 173px,#001afd 0 174px,#001aec 0 175px,#0007dc 0 176px,#0000ca 0 177px,#0000cb 0 178px,#0000b0 0 179px,#000097 0 180px,#000080 0 181px,#000085 0 182px,#000082 0 183px,#000080 0 215px)"></div>
<div class="rw" style="top:68.17px;height:7.51px;width:215px;background-image:linear-gradient(90deg,#000080 0 28px,#000082 0 29px,#000087 0 30px,#0000a4 0 31px,#0000ad 0 32px,#00008a 0 33px,#0000e8 0 34px,#00008e 0 35px,#000da5 0 36px,#003bff 0 37px,#0053ff 0 38px,#0047ff 0 39px,#006fff 0 40px,#004aff 0 41px,#0072ff 0 42px,#0061ff 0 43px,#004dff 0 44px,#0652c2 0 45px,#14f3a0 0 46px,#06f9ca 0 47px,#23ef82 0 48px,#2aed76 0 49px,#1c96ba 0 50px,#13f4a9 0 51px,#22ba93 0 52px,#25b692 0 53px,#15f299 0 54px,#35ea64 0 55px,#18e79c 0 56px,#28d498 0 57px,#27ee7b 0 58px,#1deab5 0 59px,#2aed77 0 60px,#14e5b7 0 61px,#0cf5ce 0 62px,#10c3c5 0 63px,#46ec52 0 64px,#50ea46 0 65px,#1ff6a8 0 66px,#1cf3a5 0 67px,#17efae 0 68px,#20ee8e 0 69px,#41e85a 0 70px,#0bebcc 0 71px,#21f08a 0 72px,#59ea3e 0 73px,#3ee958 0 74px,#8ef11d 0 75px,#49729b 0 76px,#83ef21 0 77px,#a6f413 0 78px,#74ed29 0 79px,#bff70a 0 80px,#bdf70a 0 81px,#a3f411 0 82px,#60ee42 0 83px,#94f11c 0 84px,#8bf431 0 85px,#93f424 0 86px,#88ef2a 0 87px,#56f04e 0 88px,#82ef20 0 89px,#2f6cb4 0 90px,#33d498 0 91px,#b7f60d 0 92px,#a4f412 0 93px,#6aeb2e 0 94px,#30f7a0 0 95px,#5fec3d 0 96px,#47f989 0 97px,#d8f306 0 98px,#e5fa02 0 99px,#a2f416 0 100px,#6fef36 0 101px,#7eee23 0 102px,#40f685 0 103px,#42f29a 0 104px,#86f024 0 105px,#8ecf45 0 106px,#9cba5f 0 107px,#9ef313 0 108px,#31f38a 0 109px,#7eee25 0 110px,#cef30a 0 111px,#86f63f 0 112px,#62f044 0 113px,#6cec2e 0 114px,#8af01c 0 115px,#516656 0 116px,#adf513 0 117px,#77f95a 0 118px,#63ef42 0 119px,#21eb8a 0 120px,#31df96 0 121px,#54f467 0 122px,#43ed65 0 123px,#4ce949 0 124px,#2c878d 0 125px,#7bc741 0 126px,#7bee27 0 127px,#abf50f 0 128px,#9bf315 0 129px,#2cf4aa 0 130px,#56e93f 0 131px,#0578c6 0 132px,#04c1c0 0 133px,#00f9fa 0 134px,#03a4e8 0 135px,#01bff0 0 136px,#0ef6b6 0 137px,#03fce4 0 138px,#0cebc3 0 139px,#01adf8 0 140px,#02c5e8 0 141px,#0095ff 0 142px,#01dbef 0 143px,#00dffb 0 144px,#01e9ec 0 145px,#00cdff 0 146px,#0063ff 0 147px,#00b4ff 0 148px,#00b7ff 0 149px,#005bff 0 150px,#007cff 0 151px,#004dff 0 152px,#00adff 0 153px,#009cff 0 154px,#0070ff 0 155px,#002aff 0 156px,#0023ff 0 157px,#0022ff 0 158px,#0007d1 0 159px,#0005fa 0 160px,#0000a8 0 161px,#0000c4 0 162px,#000099 0 163px,#000088 0 164px,#000080 0 215px)"></div>
<div class="rw" style="top:60.67px;height:7.51px;width:215px;background-image:linear-gradient(90deg,#000080 0 48px,#000084 0 49px,#000087 0 50px,#000088 0 51px,#00009b 0 52px,#00009d 0 53px,#0000c9 0 54px,#0000d5 0 55px,#0009dc 0 56px,#0000c6 0 57px,#000def 0 58px,#0006b3 0 59px,#0000fb 0 60px,#0000b0 0 61px,#0000cc 0 62px,#0008b3 0 63px,#0033ff 0 64px,#0022ff 0 65px,#0008dc 0 66px,#0010ee 0 67px,#0001d4 0 68px,#0000e0 0 69px,#0005f2 0 70px,#0000cb 0 71px,#0002ec 0 72px,#0015fd 0 73px,#0021f7 0 74px,#0045ff 0 75px,#0025b4 0 76px,#005cff 0 77px,#0060ff 0 78px,#0045ff 0 79px,#006bff 0 80px,#0057ff 0 81px,#0069ff 0 82px,#0040ff 0 83px,#0074ff 0 84px,#0048ff 0 85px,#0041ff 0 86px,#003bff 0 87px,#0023ff 0 88px,#006fff 0 89px,#001bab 0 90px,#0024c8 0 91px,#006eff 0 92px,#0061ff 0 93px,#0033ff 0 94px,#0023ee 0 95px,#003bff 0 96px,#0025e4 0 97px,#006fff 0 98px,#0069ff 0 99px,#005bff 0 100px,#005aff 0 101px,#0059ff 0 102px,#002df6 0 103px,#002ae0 0 104px,#0038fe 0 105px,#003be3 0 106px,#0035d0 0 107px,#0068ff 0 108px,#0020e1 0 109px,#0045ff 0 110px,#0062ff 0 111px,#003bf2 0 112px,#002ef6 0 113px,#0044ff 0 114px,#0051ff 0 115px,#002bb4 0 116px,#006bff 0 117px,#0024fd 0 118px,#005eff 0 119px,#001cf6 0 120px,#001fd8 0 121px,#0039e5 0 122px,#003bed 0 123px,#0028ff 0 124px,#0021ca 0 125px,#0057e9 0 126px,#0051ff 0 127px,#0060ff 0 128px,#004aff 0 129px,#001cd4 0 130px,#0038ff 0 131px,#000295 0 132px,#0000c5 0 133px,#0000c4 0 134px,#0000a3 0 135px,#00009a 0 136px,#0000d0 0 138px,#0000b2 0 139px,#00008e 0 140px,#00009f 0 141px,#000080 0 142px,#00009f 0 143px,#000083 0 144px,#000080 0 215px)"></div>
</div></div>
<div class="cb" style="left:521.2px;top:248px;width:3.9px;height:132.3px"></div>
<div class="t yt" style="left:282.90px;top:243.90px">24</div>
<div class="t yt" style="left:282.90px;top:258.01px">22</div>
<div class="t yt" style="left:282.90px;top:272.12px">20</div>
<div class="t yt" style="left:282.90px;top:287.52px">18</div>
<div class="t yt" style="left:282.90px;top:301.92px">16</div>
<div class="t yt" style="left:282.90px;top:316.92px">14</div>
<div class="t yt" style="left:282.90px;top:331.43px">12</div>
<div class="t yt" style="left:282.90px;top:346.62px">10</div>
<div class="t yt" style="left:282.90px;top:361.33px">8</div>
<div class="t yt" style="left:282.90px;top:377.02px">6</div>
<div class="t yt" style="left:282.90px;top:392.61px">4</div>
<div class="t yt" style="left:282.90px;top:408.00px">2</div>
<div class="t yt" style="left:282.90px;top:422.90px">0</div>
<div class="t mt" style="left:315.00px;top:430.60px;transform:scaleX(0.92)">Jan</div>
<div class="t mt" style="left:331.50px;top:430.60px;transform:scaleX(0.89)">Feb</div>
<div class="t mt" style="left:350.10px;top:430.60px;transform:scaleX(1.12)">Mar</div>
<div class="t mt" style="left:366.50px;top:430.60px;transform:scaleX(1)">Apr</div>
<div class="t mt" style="left:384.90px;top:430.60px;transform:scaleX(1.05)">May</div>
<div class="t mt" style="left:401.80px;top:430.60px;transform:scaleX(0.92)">Jun</div>
<div class="t mt" style="left:418.90px;top:430.60px;transform:scaleX(0.9)">Jul</div>
<div class="t mt" style="left:438.50px;top:430.60px;transform:scaleX(0.93)">Aug</div>
<div class="t mt" style="left:457.10px;top:430.60px;transform:scaleX(0.93)">Sep</div>
<div class="t mt" style="left:473.30px;top:430.60px;transform:scaleX(0.92)">Oct</div>
<div class="t mt" style="left:492.10px;top:430.60px;transform:scaleX(0.89)">Nov</div>
<div class="t mt" style="left:510.90px;top:430.60px;transform:scaleX(1)">Dec</div>
<div class="t ct" style="left:527.80px;top:245.90px">3.3</div>
<div class="t ct" style="left:527.80px;top:258.80px">2.97</div>
<div class="t ct" style="left:527.80px;top:271.70px">2.64</div>
<div class="t ct" style="left:527.80px;top:284.60px">2.31</div>
<div class="t ct" style="left:527.80px;top:297.50px">1.98</div>
<div class="t ct" style="left:527.80px;top:310.40px">1.65</div>
<div class="t ct" style="left:527.80px;top:323.30px">1.32</div>
<div class="t ct" style="left:527.80px;top:336.20px">0.99</div>
<div class="t ct" style="left:527.80px;top:349.10px">0.66</div>
<div class="t ct" style="left:527.80px;top:362.00px">0.33</div>
<div class="t ct" style="left:527.80px;top:374.90px">0</div>
<div class="t yl" style="left:288.70px;top:333.00px">Hours of day</div>
<div class="cap" style="left:282.2px;top:454.8px">(<b>h</b>) DC to AC ratio = 2.10</div>
</body></html>
